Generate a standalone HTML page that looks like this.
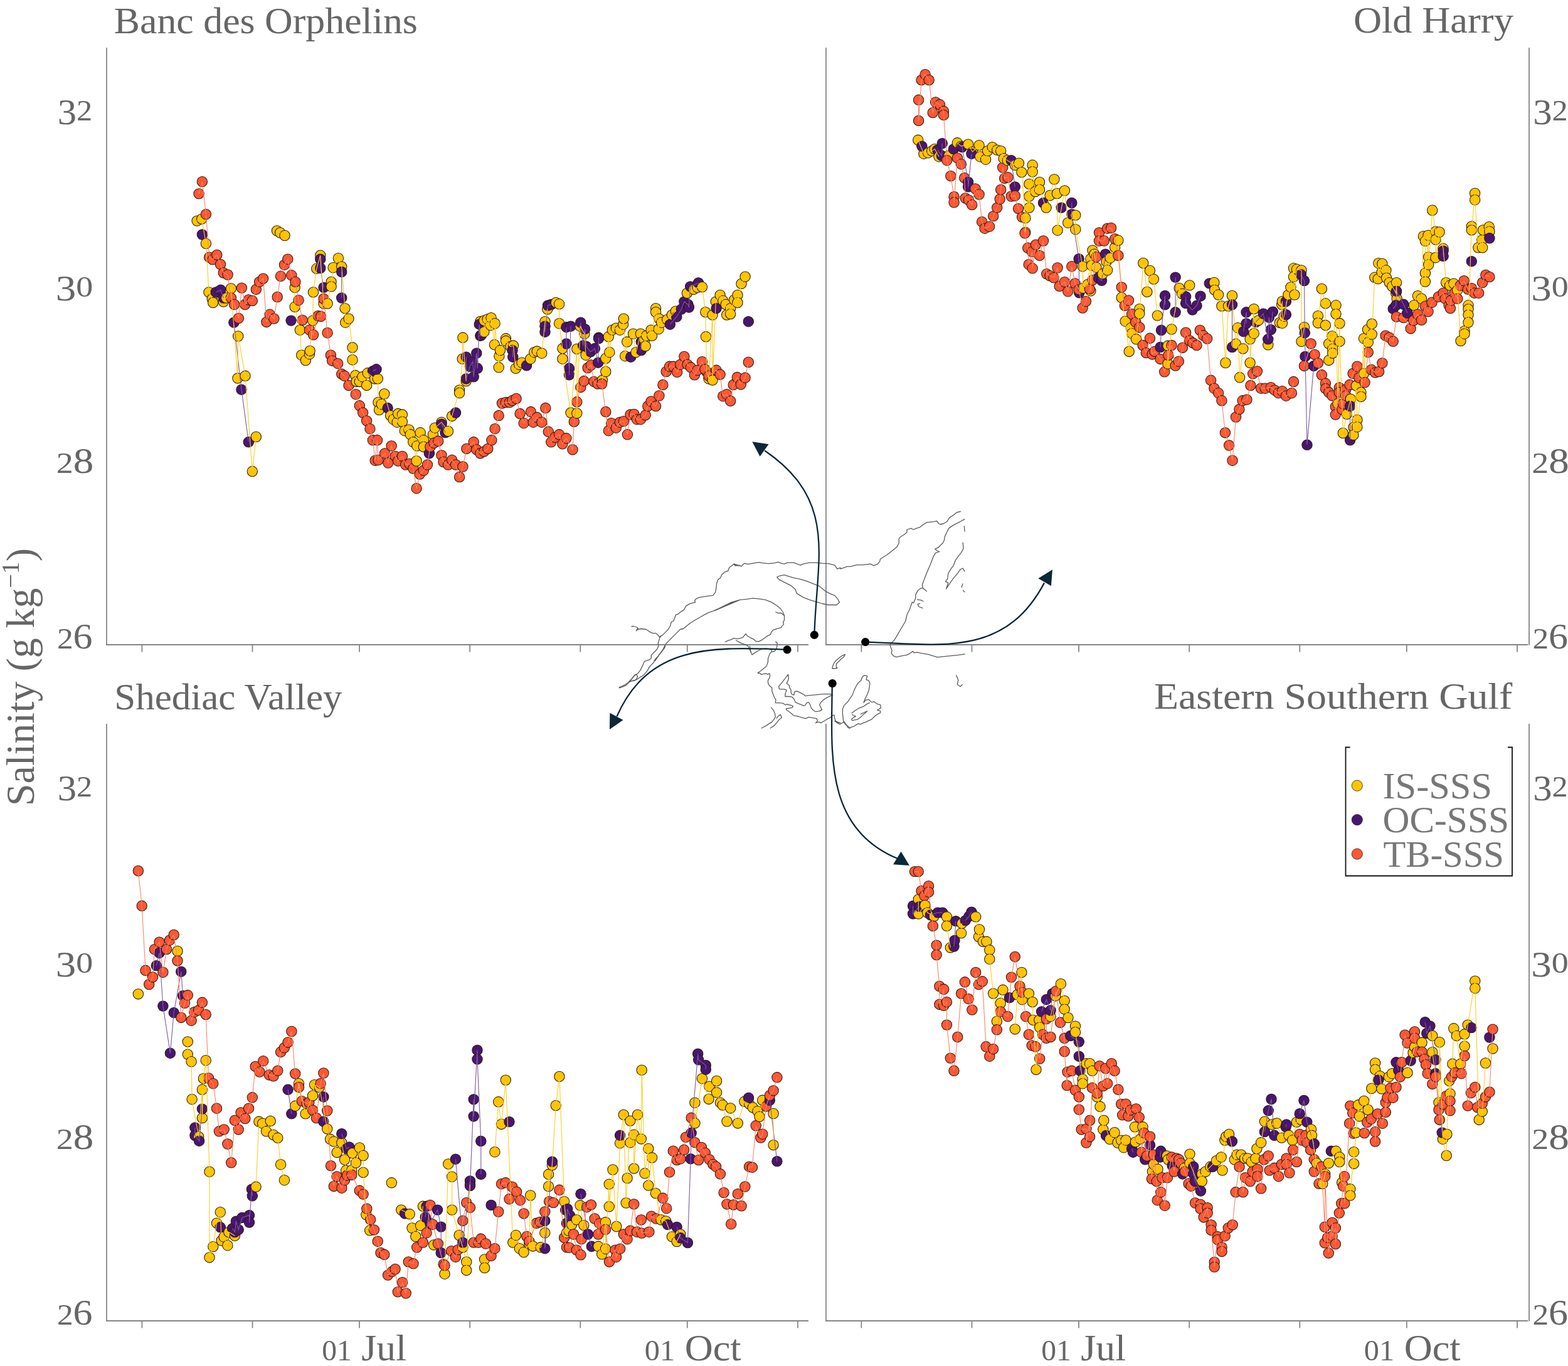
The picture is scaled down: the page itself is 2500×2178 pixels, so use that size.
<!DOCTYPE html>
<html><head><meta charset="utf-8"><title>Salinity time series</title>
<style>html,body{margin:0;padding:0;background:#fff;}svg{display:block;}text{font-family:'Liberation Serif', serif;}.a{fill:#ffc400;}.b{fill:#4a1571;}.c{fill:#ff5733;}</style>
</head><body>
<svg width="2500" height="2178" viewBox="0 0 2500 2178">
<rect width="2500" height="2178" fill="#fff"/>
<g stroke="#858585" stroke-width="1.8" fill="none">
<line x1="170" y1="76" x2="170" y2="1028.8" />
<line x1="169.2" y1="1028" x2="1289" y2="1028" />
<line x1="226.4" y1="1028" x2="226.4" y2="1039.5" />
<line x1="402.5" y1="1028" x2="402.5" y2="1039.5" />
<line x1="573" y1="1028" x2="573" y2="1039.5" />
<line x1="749.2" y1="1028" x2="749.2" y2="1039.5" />
<line x1="925.3" y1="1028" x2="925.3" y2="1039.5" />
<line x1="1095.8" y1="1028" x2="1095.8" y2="1039.5" />
<line x1="1272" y1="1028" x2="1272" y2="1039.5" />
<line x1="1317" y1="76" x2="1317" y2="1028.8" />
<line x1="1316.2" y1="1028" x2="2436" y2="1028" />
<line x1="1373.4" y1="1028" x2="1373.4" y2="1039.5" />
<line x1="1549.5" y1="1028" x2="1549.5" y2="1039.5" />
<line x1="1720" y1="1028" x2="1720" y2="1039.5" />
<line x1="1896.2" y1="1028" x2="1896.2" y2="1039.5" />
<line x1="2072.3" y1="1028" x2="2072.3" y2="1039.5" />
<line x1="2242.8" y1="1028" x2="2242.8" y2="1039.5" />
<line x1="2419" y1="1028" x2="2419" y2="1039.5" />
<line x1="2438" y1="76" x2="2438" y2="1028.8" />
<line x1="170" y1="1154" x2="170" y2="2106.8" />
<line x1="169.2" y1="2106" x2="1289" y2="2106" />
<line x1="226.4" y1="2106" x2="226.4" y2="2117.5" />
<line x1="402.5" y1="2106" x2="402.5" y2="2117.5" />
<line x1="573" y1="2106" x2="573" y2="2117.5" />
<line x1="749.2" y1="2106" x2="749.2" y2="2117.5" />
<line x1="925.3" y1="2106" x2="925.3" y2="2117.5" />
<line x1="1095.8" y1="2106" x2="1095.8" y2="2117.5" />
<line x1="1272" y1="2106" x2="1272" y2="2117.5" />
<line x1="1317" y1="1154" x2="1317" y2="2106.8" />
<line x1="1316.2" y1="2106" x2="2436" y2="2106" />
<line x1="1373.4" y1="2106" x2="1373.4" y2="2117.5" />
<line x1="1549.5" y1="2106" x2="1549.5" y2="2117.5" />
<line x1="1720" y1="2106" x2="1720" y2="2117.5" />
<line x1="1896.2" y1="2106" x2="1896.2" y2="2117.5" />
<line x1="2072.3" y1="2106" x2="2072.3" y2="2117.5" />
<line x1="2242.8" y1="2106" x2="2242.8" y2="2117.5" />
<line x1="2419" y1="2106" x2="2419" y2="2117.5" />
<line x1="2438" y1="1154" x2="2438" y2="2106.8" />
</g>
<text x="181.8" y="52.5" font-size="60" textLength="484.1" lengthAdjust="spacingAndGlyphs" fill="#666666">Banc des Orphelins</text>
<text x="2157.9" y="52" font-size="60" textLength="255" lengthAdjust="spacingAndGlyphs" fill="#666666">Old Harry</text>
<text x="182.2" y="1130.6" font-size="60" textLength="363.4" lengthAdjust="spacingAndGlyphs" fill="#666666">Shediac Valley</text>
<text x="1839.9" y="1129.6" font-size="60" textLength="571.5" lengthAdjust="spacingAndGlyphs" fill="#666666">Eastern Southern Gulf</text>
<text x="91.7" y="192" font-size="56" textLength="55.5" lengthAdjust="spacingAndGlyphs" fill="#666666"><tspan font-size="56" dy="6">3</tspan><tspan font-size="46.5" dy="-6">2</tspan></text>
<text x="2444.2" y="192" font-size="56" textLength="55.5" lengthAdjust="spacingAndGlyphs" fill="#666666"><tspan font-size="56" dy="6">3</tspan><tspan font-size="46.5" dy="-6">2</tspan></text>
<text x="88.7" y="473.3" font-size="56" textLength="59.5" lengthAdjust="spacingAndGlyphs" fill="#666666"><tspan font-size="56" dy="6">3</tspan><tspan font-size="46.5" dy="-6">0</tspan></text>
<text x="2441.2" y="473.3" font-size="56" textLength="59.5" lengthAdjust="spacingAndGlyphs" fill="#666666"><tspan font-size="56" dy="6">3</tspan><tspan font-size="46.5" dy="-6">0</tspan></text>
<text x="89.7" y="753.7" font-size="56" textLength="59.5" lengthAdjust="spacingAndGlyphs" fill="#666666"><tspan font-size="46.5">2</tspan><tspan font-size="56">8</tspan></text>
<text x="2442.2" y="753.7" font-size="56" textLength="59.5" lengthAdjust="spacingAndGlyphs" fill="#666666"><tspan font-size="46.5">2</tspan><tspan font-size="56">8</tspan></text>
<text x="90.9" y="1034" font-size="56" textLength="56.7" lengthAdjust="spacingAndGlyphs" fill="#666666"><tspan font-size="46.5">2</tspan><tspan font-size="56">6</tspan></text>
<text x="2443.4" y="1034" font-size="56" textLength="56.7" lengthAdjust="spacingAndGlyphs" fill="#666666"><tspan font-size="46.5">2</tspan><tspan font-size="56">6</tspan></text>
<text x="91.7" y="1270" font-size="56" textLength="55.5" lengthAdjust="spacingAndGlyphs" fill="#666666"><tspan font-size="56" dy="6">3</tspan><tspan font-size="46.5" dy="-6">2</tspan></text>
<text x="2444.2" y="1270" font-size="56" textLength="55.5" lengthAdjust="spacingAndGlyphs" fill="#666666"><tspan font-size="56" dy="6">3</tspan><tspan font-size="46.5" dy="-6">2</tspan></text>
<text x="88.7" y="1551.3" font-size="56" textLength="59.5" lengthAdjust="spacingAndGlyphs" fill="#666666"><tspan font-size="56" dy="6">3</tspan><tspan font-size="46.5" dy="-6">0</tspan></text>
<text x="2441.2" y="1551.3" font-size="56" textLength="59.5" lengthAdjust="spacingAndGlyphs" fill="#666666"><tspan font-size="56" dy="6">3</tspan><tspan font-size="46.5" dy="-6">0</tspan></text>
<text x="89.7" y="1831.7" font-size="56" textLength="59.5" lengthAdjust="spacingAndGlyphs" fill="#666666"><tspan font-size="46.5">2</tspan><tspan font-size="56">8</tspan></text>
<text x="2442.2" y="1831.7" font-size="56" textLength="59.5" lengthAdjust="spacingAndGlyphs" fill="#666666"><tspan font-size="46.5">2</tspan><tspan font-size="56">8</tspan></text>
<text x="90.9" y="2112" font-size="56" textLength="56.7" lengthAdjust="spacingAndGlyphs" fill="#666666"><tspan font-size="46.5">2</tspan><tspan font-size="56">6</tspan></text>
<text x="2443.4" y="2112" font-size="56" textLength="56.7" lengthAdjust="spacingAndGlyphs" fill="#666666"><tspan font-size="46.5">2</tspan><tspan font-size="56">6</tspan></text>
<text x="513.2" y="2168.8" font-size="60" textLength="134.8" lengthAdjust="spacingAndGlyphs" fill="#666666"><tspan font-size="46.5">0</tspan><tspan font-size="46.5">1</tspan> Jul</text>
<text x="1027.8" y="2168.8" font-size="60" textLength="153.9" lengthAdjust="spacingAndGlyphs" fill="#666666"><tspan font-size="46.5">0</tspan><tspan font-size="46.5">1</tspan> Oct</text>
<text x="1660.2" y="2168.8" font-size="60" textLength="134.8" lengthAdjust="spacingAndGlyphs" fill="#666666"><tspan font-size="46.5">0</tspan><tspan font-size="46.5">1</tspan> Jul</text>
<text x="2174.8" y="2168.8" font-size="60" textLength="153.9" lengthAdjust="spacingAndGlyphs" fill="#666666"><tspan font-size="46.5">0</tspan><tspan font-size="46.5">1</tspan> Oct</text>
<text transform="translate(53.5,1285) rotate(-90)" font-size="64" fill="#666666" textLength="411" lengthAdjust="spacingAndGlyphs">Salinity (g kg<tspan font-size="40" dy="-24">−1</tspan><tspan dy="24">)</tspan></text>
<path d="M2152.5,1191.5 H2145.5 V1396.5 H2411 V1191.5 H2404" fill="none" stroke="#111" stroke-width="1.8"/>
<circle cx="2163.8" cy="1252.7" r="8.6" fill="#ffc400" stroke="#222" stroke-width="0.8"/>
<circle cx="2163.8" cy="1307.1" r="8.6" fill="#4a1571" stroke="#222" stroke-width="0.8"/>
<circle cx="2163.8" cy="1361.6" r="8.6" fill="#ff5733" stroke="#222" stroke-width="0.8"/>
<text x="2204.5" y="1272.9" font-size="60" textLength="174.5" lengthAdjust="spacingAndGlyphs" fill="#777777">IS-SSS</text>
<text x="2204.5" y="1327.4" font-size="60" textLength="201.5" lengthAdjust="spacingAndGlyphs" fill="#777777">OC-SSS</text>
<text x="2205.5" y="1381.8" font-size="60" textLength="192.5" lengthAdjust="spacingAndGlyphs" fill="#777777">TB-SSS</text>
<g fill="none" stroke="#5a5a5a" stroke-width="1.3" stroke-linejoin="round">
<path d="M986.8,1096.1 L991.7,1094.2 L995.6,1092.2 L1000.4,1089.3 L1003.3,1086.4 L1007.2,1082.5 L1012.1,1076.7 L1016.9,1073.8 L1020.8,1068.9 L1024.7,1061.1 L1026.7,1056.3 L1027.6,1054.3 L1034.4,1052.4 L1038.3,1049.4 L1038.3,1044.6 L1042.2,1040.7 L1047.1,1035.8 L1048.1,1033.9 L1050,1030 L1049.3,1025.6 L1051.3,1018.6 L1052.3,1014.6 L1054.3,1013.6 L1056.3,1012.6 L1060.4,1008.6 L1065.4,1003.5 L1068.4,998.5 L1070.4,991.5 L1073.4,990.5 L1075.4,986.5 L1077.4,980.4 L1080.4,979.4 L1085.5,975.4 L1090.5,972.4 L1091.5,970.4 L1093.5,966.4 L1098.5,963.4 L1100.5,962.4 L1108.6,960.4 L1107.6,957.3 L1110.6,954.3 L1115.6,952.3 L1122.6,951.3 L1128.7,950.3 L1136.7,949.3 L1140.7,944.3 L1141.7,938.3 L1142.7,930.2 L1144.7,924.2 L1148.7,921.2 L1150.8,916.2 L1155.8,912.1 L1160.8,910.1 L1162.8,905.1 L1167.8,901.1 L1170.8,899.1 L1173.9,901.6 L1180,902.1 L1170.1,899.2 L1172.1,902.2 L1178.2,901.2 L1182.2,903.2 L1184.2,900.2 L1187.2,898.2 L1192.2,899.7 L1200.3,898.2 L1210.3,896.7 L1215.3,897.7 L1225.4,898.7 L1235.4,897.7 L1240.4,896.2 L1245.5,898.2 L1250.5,899.2 L1255.5,897.2 L1265.6,897.2 L1270.6,899.2 L1276.6,901.2 L1280.6,899.2 L1285.6,898.2 L1290.7,897.2 L1300.7,897.2 L1310.8,898.2 L1320.8,898.7 L1330.8,901.2 L1334.9,907.2 L1340,905.2 L1340,907.1 L1350.6,903.4 L1355.9,903.4 L1366.5,900.7 L1377.1,900.7 L1387.7,899.1 L1393,901.8 L1399.4,899.1 L1402.6,895.4 L1403.6,891.2 L1408.9,888 L1414.2,884.8 L1419.5,880.6 L1424.8,876.3 L1430.1,872.1 L1433.3,865.7 L1433.3,859.4 L1435.4,856.2 L1440.7,853 L1446,848.8 L1446,844.5 L1452.4,842.4 L1456.6,844.5 L1459.8,842.9 L1467.2,840.3 L1472.5,836 L1477.8,832.9 L1488.4,831.8 L1493.7,830.7 L1496.9,835 L1499,836 L1504.3,835 L1509.6,831.8 L1513.9,825.4 L1520.2,821.2 L1525.5,817 L1531.9,815.4"/>
<path d="M1006.6,999 L1010.1,998.5 L1015.2,1000 L1017.2,1001.5 L1014.2,1005.6 L1017.2,1003.5 L1022.2,1002.5 L1030.2,1003.5 L1036.2,1007.6 L1040.3,1009.6 L1045.3,1009.6 L1049.3,1012.6 L1051.3,1015.6 L1054.3,1015.6"/>
<path d="M1003.3,1086.4 L1007.2,1082.5 L1012.1,1076.2 L1015,1075.7 L1016.5,1078.6 L1015,1082.5 L1011.1,1085.4 L1007.2,1085.9 L1003.3,1086.4"/>
<path d="M986.8,1097.1 L992.6,1095.1 L997.5,1093.2 L1002.4,1088.3 L1007.2,1085.4 L1013.1,1084.4 L1016.9,1082.5 L1020.8,1079.6 L1024.7,1077.6 L1028.6,1073.8 L1032.5,1068.9 L1034.4,1065 L1038.3,1060.1 L1042.2,1056.3 L1044.2,1051.4 L1048.1,1047.5 L1053.9,1040.7 L1059.7,1032.9 L1060.7,1030 L1044.3,1053.8 L1050.3,1044.7 L1056.3,1036.7 L1059.3,1030.7 L1062.4,1025.6 L1065.4,1022.6 L1070.4,1017.6 L1075.4,1012.6 L1080.4,1007.6 L1084.5,1003.5 L1089.5,1002.5 L1095.5,997.5 L1100.5,993.5 L1108.6,988.5 L1115.6,984.5 L1122.6,980.4 L1130.7,976.4 L1136.7,974.4 L1145.7,970.4 L1155.8,965.4 L1165.8,960.4 L1180,956.3 L1140,973.5 L1150,968.5 L1160.1,963.5 L1170.1,959.4 L1180.2,956.4 L1190.2,955.4 L1200.3,953.9 L1210.3,954.9 L1220.4,956.4 L1230.4,960.4 L1238.4,965.5 L1244.5,970.5 L1248.5,976.5 L1250.5,981.5 L1250.5,988.6 L1248.5,992.6 L1249.5,995.6 L1246.5,998.6 L1245.5,1000.6 L1238.4,1002.6 L1232.4,1004.6 L1229.4,1008.7 L1228.4,1011.7 L1222.4,1014.7 L1218.3,1017.7 L1214.3,1020.7 L1210.3,1022.7 L1205.3,1022.7 L1202.3,1019.7 L1196.2,1016.7 L1191.2,1013.7 L1189.2,1010.7 L1187.2,1012.7 L1184.2,1016.7 L1180.2,1017.7 L1175.2,1018.7 L1170.1,1017.7 L1166.1,1019.7 L1160.1,1021.7 L1156.1,1023.7"/>
<path d="M1236.4,975.5 L1240.4,977.5 L1245.5,977.5 L1250.5,981.5"/>
<path d="M1238.4,920.3 L1242.5,924.3 L1250.5,928.3 L1260.5,933.3 L1267.6,939.3 L1270.6,946.4 L1280.6,952.4 L1290.7,956.4 L1300.7,959.4 L1310.8,962.5 L1320.8,964.5 L1333.9,964.5 L1338.4,960.4 L1335.9,955.4 L1330.8,949.4 L1322.8,946.4 L1315.8,942.4 L1310.8,938.3 L1305.7,934.3 L1295.7,930.3 L1285.6,926.3 L1275.6,923.3 L1265.6,921.3 L1255.5,918.3 L1250.5,916.7 L1242.5,918.3 L1238.4,920.3"/>
<path d="M1538.3,827.6 L1530.8,831.8 L1520.2,837.1 L1512.8,842.4 L1509.6,848.8 L1506.5,855.1 L1505.4,861.5 L1503.3,865.7 L1499,870 L1495.9,873.2 L1490.6,875.3 L1494.8,878.5 L1498,879.5 L1491.6,881.6 L1488.4,886.9 L1486.3,892.2 L1483.1,900.7 L1478.9,910.3 L1474.6,920.9 L1470.4,932.5 L1471.5,937.8 L1468.3,937.8 L1463,942.1 L1459.8,948.4 L1459.8,953.7 L1456.6,961.2 L1454.5,960.1 L1452.4,965.4 L1450.3,971.8 L1446,980.2 L1443.9,990 L1426.3,1020 L1420.4,1025.9 L1418.8,1028.4 L1420.4,1032.6 L1422.1,1036.7 L1421.3,1041.8 L1424.6,1045.9 L1428.8,1047.6 L1437.2,1045.9 L1445.6,1044.3 L1450.6,1041.8 L1455.6,1038.4 L1457.3,1040.9 L1462.3,1040.1 L1470.7,1041.8 L1480,1043.4 L1494.4,1047.8 L1511.1,1046.1 L1527.9,1044.4 L1538.8,1042.8"/>
<path d="M1461.9,955.9 L1468.3,956.9 L1472.5,959"/>
<path d="M1467.2,962.2 L1463,963.3 L1465.1,967.5 L1471.5,969.6"/>
<path d="M1471.5,937.8 L1477.8,943.1"/>
<path d="M1535.1,864.7 L1536.1,874.2 L1533,880.6 L1528.7,885.9 L1523.4,893.3 L1520.2,901.8 L1516,907.1 L1511.8,914.5 L1510.7,923 L1507.5,927.2 L1511.8,929.3 L1508.6,938.9 L1514.9,929.3 L1520.2,921.9 L1526.6,914.5 L1530.8,908.1 L1535.1,906 L1538.3,911.3"/>
<path d="M1173.1,1020.7 L1176.2,1022.7 L1182.2,1025.7 L1190.2,1028.7 L1193.2,1030.8 L1195.2,1035.8 L1197.3,1040"/>
<path d="M1236.4,1022.7 L1239.4,1025.7 L1238.4,1032.8 L1235.4,1037.8 L1230.4,1040"/>
<path d="M1198.8,1044.1 L1203.4,1040.9 L1209.7,1037 L1215.2,1034.7 L1220.6,1033.9 L1226.9,1034.7 L1230.8,1037 L1230,1039.4 L1227.7,1041.7 L1226.1,1045.6 L1224.5,1050.3 L1224.5,1055 L1223,1059.7 L1221.4,1062.8 L1217.5,1065.9 L1213.6,1069.1 L1210.5,1071.4 L1208.1,1073 L1212.8,1073.8 L1213.6,1075.7 L1217.5,1074.5 L1221.4,1073.8 L1223.8,1075.3 L1226.9,1073.8 L1227.7,1076.9 L1226.9,1080.8 L1224.5,1084.7 L1224.5,1088.6 L1226.1,1092.5 L1228.4,1094.8 L1230.8,1096.4 L1230.8,1101.9 L1233.1,1108.1 L1234.7,1112 L1236.2,1114.4 L1237,1115.9 L1236.2,1120.6 L1242.5,1120.6 L1248.8,1121.4 L1251.9,1123.8 L1254.2,1123 L1258.1,1123.8 L1261.2,1124.5 L1264.4,1126.1 L1262.8,1128.4 L1258.1,1129.2 L1253.4,1130 L1254.2,1132.3 L1258.1,1134.7 L1262,1137.8 L1265.2,1140.9 L1269.8,1141.7 L1273.8,1142.5 L1278.4,1144.1 L1281.6,1144.8 L1284.7,1145.6 L1289.4,1143.3 L1293.3,1144.1 L1297.2,1144.8 L1301.9,1145.6 L1303.4,1148.8 L1301.9,1151.9 L1300.3,1152.7 L1305,1151.1 L1308.9,1152.7 L1312.8,1150.3 L1316.7,1148 L1320.6,1145.6 L1323.8,1144.1 L1326.9,1140.9 L1330,1140.2 L1330.8,1145.6 L1332.3,1149.5 L1336.2,1151.9 L1340,1152.7 L1330.9,1149.7 L1334.2,1152.3 L1339.3,1154.8 L1343.4,1152.3 L1345.9,1150.6 L1349.3,1155.6 L1351.8,1159.8 L1355.2,1161.5"/>
<path d="M1195.6,1030 L1196.4,1036.2 L1198,1041.7 L1198.8,1044.1"/>
<path d="M1242.5,1098.8 L1241.7,1094.1 L1246.4,1088.6 L1251.9,1081.6 L1256.6,1075.3 L1257.3,1080.8 L1256.6,1084.7 L1254.2,1089.4 L1258.1,1092.5 L1258.9,1096.4 L1261.2,1100.3 L1261.2,1104.2 L1262.8,1107.3 L1265.9,1108.1 L1266.7,1103.4 L1269.8,1101.9 L1273.8,1103.4 L1278.4,1105.8 L1281.6,1107.3 L1283.9,1109.7 L1289.4,1108.9 L1297.2,1108.1 L1305,1107.3 L1312.8,1106.6 L1323.8,1106.6 L1327.7,1108.1 L1323.8,1109.7 L1317.5,1112.8 L1312.8,1115.9 L1308.9,1119.8 L1306.6,1123.8 L1308.9,1128.4 L1310.5,1131.6 L1306.6,1133.9 L1300.3,1134.7 L1296.4,1132.3 L1293.3,1128.4 L1291.7,1123.8 L1289.4,1119.8 L1286.2,1120.6 L1283.9,1124.5 L1281.6,1125.3 L1273.8,1122.2 L1268.3,1119.8 L1265.9,1114.4 L1262.8,1111.2 L1258.1,1110.5 L1251.9,1110.5 L1251.9,1106.6 L1254.2,1100.3 L1250.3,1098.8 L1246.4,1098.8 L1242.5,1098.8"/>
<path d="M1229.2,1127.7 L1233.1,1132.3 L1235.5,1137.8 L1236.2,1143.3 L1233.9,1147.2 L1230.8,1151.1 L1226.9,1153.4 L1222.2,1156.6 L1213.6,1161.2"/>
<path d="M1227.7,1161.2 L1234.7,1156.6 L1239.4,1151.1 L1242.5,1147.2 L1246.4,1144.1 L1244.1,1139.4 L1240.9,1141.7 L1237.8,1145.6"/>
<path d="M1326.7,1066 L1328.4,1060.2 L1330,1056.8 L1332.6,1053.5 L1336.7,1050.1 L1341.8,1045.9 L1347.6,1043.4 L1345.1,1047.6 L1340.9,1051 L1336.7,1055.2 L1333.4,1058.5 L1333.4,1063.5 L1335.1,1065.2 L1330.9,1066 L1326.7,1066"/>
<path d="M1345.1,1151.4 L1344.3,1145.6 L1343.4,1137.2 L1343.4,1130.5 L1345.9,1124.6 L1351.8,1118.8 L1355.2,1113.7 L1359.3,1107.9 L1361.9,1100.4 L1365.2,1093.7 L1368.5,1088.6 L1372.7,1085.3 L1375.2,1078.6 L1378.6,1076.9 L1382.8,1077.8 L1381.1,1083.6 L1385.3,1085.3 L1387,1089.5 L1386.1,1095.3 L1385.3,1100.4 L1382.8,1107.1 L1379.4,1113.7 L1376.9,1120.4 L1380.3,1116.3 L1385.3,1115.4 L1389.5,1119.6 L1393.7,1118.8 L1397.8,1122.1 L1403.7,1123.8 L1404.5,1128 L1402,1130.5 L1398.7,1132.2 L1403.7,1133.8 L1403.7,1136.3 L1398.7,1138.9 L1395.3,1141.4 L1392.8,1143.9 L1389.5,1147.2 L1385.3,1148.9 L1380.3,1151.4 L1375.2,1153.1 L1371.9,1154.8 L1368.5,1153.9 L1365.2,1155.6 L1361.9,1158.1 L1358.5,1158.9 L1355.2,1160.6 L1351.8,1158.1 L1348.5,1155.6 L1345.1,1151.4"/>
<path d="M1357.7,1137.2 L1364.4,1132.2 L1370.2,1128.8 L1376.9,1126.3 L1382.8,1122.1 L1387,1120.4"/>
<path d="M1371.9,1138.9 L1378.6,1135.5 L1382.8,1133.8 L1376.9,1138.9 L1371.9,1143.9 L1366.9,1147.2 L1361.9,1148.1 L1358.5,1148.9 L1357.7,1146.4 L1361,1143.9 L1364.4,1142.2 L1360.2,1140.5 L1358.5,1138.9"/>
<path d="M1524.5,1076.2 L1527.9,1084.6 L1526.2,1091.3 L1531.2,1094.7 L1534.6,1091.3"/>
<path d="M1537.2,838.2 L1538.3,847.7"/>
<path d="M1535.1,930.4 L1533,936.8"/>
<path d="M1535.1,941 L1538.3,944.2"/>
</g>
<g stroke="#2b1a12" stroke-width="1.05">
<circle class="a" cx="314.1" cy="352.1" r="8.2"/><circle class="c" cx="317.1" cy="308.9" r="8.2"/><circle class="a" cx="321.7" cy="349.1" r="8.2"/><circle class="b" cx="322.4" cy="374" r="8.2"/><circle class="c" cx="322.4" cy="289.6" r="8.2"/><circle class="a" cx="328.4" cy="388.3" r="8.2"/><circle class="c" cx="328.4" cy="341.6" r="8.2"/><circle class="a" cx="333" cy="465.9" r="8.2"/><circle class="c" cx="333.7" cy="410.2" r="8.2"/><circle class="a" cx="338.2" cy="476.5" r="8.2"/><circle class="a" cx="339.7" cy="482.5" r="8.2"/><circle class="c" cx="339" cy="413.9" r="8.2"/><circle class="b" cx="344.3" cy="465.9" r="8.2"/><circle class="c" cx="345.8" cy="406.4" r="8.2"/><circle class="b" cx="351.8" cy="462.2" r="8.2"/><circle class="c" cx="351.5" cy="421.5" r="8.2"/><circle class="a" cx="356.3" cy="481" r="8.2"/><circle class="b" cx="356.3" cy="475" r="8.2"/><circle class="c" cx="356.3" cy="435" r="8.2"/><circle class="a" cx="360.8" cy="475" r="8.2"/><circle class="c" cx="363.1" cy="438" r="8.2"/><circle class="a" cx="368.4" cy="459.9" r="8.2"/><circle class="c" cx="368.4" cy="475" r="8.2"/><circle class="b" cx="372.9" cy="514.2" r="8.2"/><circle class="c" cx="373.6" cy="485.5" r="8.2"/><circle class="a" cx="378.9" cy="603.1" r="8.2"/><circle class="a" cx="379.7" cy="536" r="8.2"/><circle class="c" cx="380.4" cy="507.4" r="8.2"/><circle class="b" cx="385" cy="621.2" r="8.2"/><circle class="c" cx="385.4" cy="459.1" r="8.2"/><circle class="a" cx="391" cy="599.3" r="8.2"/><circle class="c" cx="390.7" cy="485.5" r="8.2"/><circle class="b" cx="396.3" cy="704.8" r="8.2"/><circle class="c" cx="396.3" cy="478" r="8.2"/><circle class="a" cx="402.3" cy="751.6" r="8.2"/><circle class="c" cx="402.3" cy="479.5" r="8.2"/><circle class="a" cx="408.3" cy="696.5" r="8.2"/><circle class="c" cx="408.3" cy="461.4" r="8.2"/><circle class="c" cx="413.6" cy="449.4" r="8.2"/><circle class="c" cx="419.6" cy="444.1" r="8.2"/><circle class="c" cx="424.9" cy="513.4" r="8.2"/><circle class="c" cx="430.2" cy="501.3" r="8.2"/><circle class="c" cx="436.9" cy="508.1" r="8.2"/><circle class="a" cx="441.5" cy="368" r="8.2"/><circle class="c" cx="442.2" cy="473.5" r="8.2"/><circle class="a" cx="446.7" cy="371" r="8.2"/><circle class="c" cx="447.5" cy="440.3" r="8.2"/><circle class="a" cx="454" cy="375.5" r="8.2"/><circle class="c" cx="453.5" cy="422.2" r="8.2"/><circle class="c" cx="458.8" cy="413.2" r="8.2"/><circle class="b" cx="464.1" cy="511.1" r="8.2"/><circle class="c" cx="464.8" cy="438.8" r="8.2"/><circle class="a" cx="470.1" cy="458.4" r="8.2"/><circle class="a" cx="470.1" cy="489.3" r="8.2"/><circle class="c" cx="470.9" cy="449.4" r="8.2"/><circle class="a" cx="478.4" cy="526.2" r="8.2"/><circle class="c" cx="476.1" cy="478.7" r="8.2"/><circle class="a" cx="480.7" cy="566.2" r="8.2"/><circle class="c" cx="482.2" cy="510.4" r="8.2"/><circle class="a" cx="487.4" cy="574.5" r="8.2"/><circle class="a" cx="493.5" cy="564.7" r="8.2"/><circle class="a" cx="494.2" cy="559.4" r="8.2"/><circle class="c" cx="493.5" cy="526.2" r="8.2"/><circle class="a" cx="498.7" cy="511.1" r="8.2"/><circle class="a" cx="499.5" cy="465.9" r="8.2"/><circle class="c" cx="499.5" cy="533.8" r="8.2"/><circle class="a" cx="504.8" cy="428.3" r="8.2"/><circle class="c" cx="507" cy="503.6" r="8.2"/><circle class="a" cx="510.8" cy="407.2" r="8.2"/><circle class="b" cx="510.8" cy="413.2" r="8.2"/><circle class="b" cx="510.8" cy="427.5" r="8.2"/><circle class="c" cx="511.6" cy="504.4" r="8.2"/><circle class="a" cx="516.1" cy="484" r="8.2"/><circle class="b" cx="516.1" cy="458.4" r="8.2"/><circle class="c" cx="516.1" cy="476.5" r="8.2"/><circle class="a" cx="522.1" cy="484" r="8.2"/><circle class="c" cx="522.1" cy="530.7" r="8.2"/><circle class="a" cx="528.1" cy="449.4" r="8.2"/><circle class="a" cx="528.1" cy="456.9" r="8.2"/><circle class="c" cx="527.4" cy="566.2" r="8.2"/><circle class="c" cx="529.6" cy="575.2" r="8.2"/><circle class="a" cx="531.1" cy="426.7" r="8.2"/><circle class="a" cx="539.4" cy="411.7" r="8.2"/><circle class="c" cx="538.7" cy="579.7" r="8.2"/><circle class="a" cx="544.7" cy="425.2" r="8.2"/><circle class="b" cx="544.7" cy="433.5" r="8.2"/><circle class="b" cx="544.7" cy="475" r="8.2"/><circle class="c" cx="544.7" cy="596.3" r="8.2"/><circle class="a" cx="550" cy="491.6" r="8.2"/><circle class="a" cx="550.7" cy="514.2" r="8.2"/><circle class="c" cx="549.2" cy="599.3" r="8.2"/><circle class="a" cx="556" cy="508.1" r="8.2"/><circle class="c" cx="556" cy="614.4" r="8.2"/><circle class="a" cx="562" cy="554.1" r="8.2"/><circle class="a" cx="562" cy="573.7" r="8.2"/><circle class="a" cx="566.6" cy="598.6" r="8.2"/><circle class="a" cx="568.1" cy="608.4" r="8.2"/><circle class="c" cx="567.3" cy="628.7" r="8.2"/><circle class="a" cx="573.3" cy="608.4" r="8.2"/><circle class="c" cx="573.3" cy="646.8" r="8.2"/><circle class="a" cx="577.9" cy="600.8" r="8.2"/><circle class="c" cx="578.6" cy="658.1" r="8.2"/><circle class="a" cx="584.6" cy="614.4" r="8.2"/><circle class="a" cx="586.2" cy="594.8" r="8.2"/><circle class="c" cx="584.6" cy="670.9" r="8.2"/><circle class="c" cx="589.9" cy="683.7" r="8.2"/><circle class="a" cx="597.5" cy="603.9" r="8.2"/><circle class="b" cx="594.4" cy="591.8" r="8.2"/><circle class="c" cx="594.4" cy="701.8" r="8.2"/><circle class="c" cx="598.2" cy="734.2" r="8.2"/><circle class="a" cx="602.3" cy="603.9" r="8.2"/><circle class="a" cx="603" cy="641.5" r="8.2"/><circle class="a" cx="604.5" cy="653.6" r="8.2"/><circle class="b" cx="600" cy="588.8" r="8.2"/><circle class="c" cx="601.5" cy="701.8" r="8.2"/><circle class="c" cx="603" cy="733.5" r="8.2"/><circle class="a" cx="608.3" cy="644.5" r="8.2"/><circle class="a" cx="612.8" cy="628" r="8.2"/><circle class="c" cx="613.6" cy="722.9" r="8.2"/><circle class="b" cx="618.1" cy="650.6" r="8.2"/><circle class="c" cx="618.8" cy="738" r="8.2"/><circle class="a" cx="622.6" cy="662.6" r="8.2"/><circle class="a" cx="627.1" cy="668.7" r="8.2"/><circle class="c" cx="624.1" cy="710.9" r="8.2"/><circle class="a" cx="633.2" cy="673.2" r="8.2"/><circle class="c" cx="630.1" cy="727.4" r="8.2"/><circle class="a" cx="634.7" cy="659.6" r="8.2"/><circle class="c" cx="634.7" cy="735" r="8.2"/><circle class="a" cx="641.4" cy="661.1" r="8.2"/><circle class="a" cx="641.4" cy="672.4" r="8.2"/><circle class="c" cx="641.4" cy="727.4" r="8.2"/><circle class="a" cx="645.2" cy="686.7" r="8.2"/><circle class="c" cx="646.7" cy="741" r="8.2"/><circle class="a" cx="652" cy="685.2" r="8.2"/><circle class="a" cx="654.3" cy="692.8" r="8.2"/><circle class="c" cx="652.8" cy="739.5" r="8.2"/><circle class="a" cx="658.8" cy="704.8" r="8.2"/><circle class="c" cx="658.8" cy="747" r="8.2"/><circle class="a" cx="664.1" cy="735" r="8.2"/><circle class="a" cx="664.8" cy="710.9" r="8.2"/><circle class="c" cx="664.1" cy="778.7" r="8.2"/><circle class="a" cx="670.1" cy="689.8" r="8.2"/><circle class="c" cx="669.3" cy="756.1" r="8.2"/><circle class="a" cx="675.4" cy="701.8" r="8.2"/><circle class="a" cx="675.4" cy="712.4" r="8.2"/><circle class="c" cx="675.4" cy="750" r="8.2"/><circle class="b" cx="684.4" cy="722.9" r="8.2"/><circle class="c" cx="681.4" cy="741" r="8.2"/><circle class="c" cx="685.9" cy="712.4" r="8.2"/><circle class="a" cx="690.4" cy="692.8" r="8.2"/><circle class="a" cx="693.4" cy="682.2" r="8.2"/><circle class="c" cx="691.9" cy="706.3" r="8.2"/><circle class="c" cx="698.7" cy="703.3" r="8.2"/><circle class="a" cx="704" cy="673.2" r="8.2"/><circle class="b" cx="704" cy="676.2" r="8.2"/><circle class="c" cx="704" cy="725.9" r="8.2"/><circle class="c" cx="707" cy="736.5" r="8.2"/><circle class="b" cx="710" cy="689.8" r="8.2"/><circle class="a" cx="714.5" cy="687.5" r="8.2"/><circle class="c" cx="714.5" cy="741" r="8.2"/><circle class="a" cx="720.6" cy="663.4" r="8.2"/><circle class="c" cx="720.6" cy="733.5" r="8.2"/><circle class="b" cx="726.6" cy="658.1" r="8.2"/><circle class="c" cx="726.6" cy="741" r="8.2"/><circle class="a" cx="732.6" cy="621.9" r="8.2"/><circle class="a" cx="732.6" cy="626.5" r="8.2"/><circle class="c" cx="732.6" cy="760.6" r="8.2"/><circle class="a" cx="737.2" cy="572.2" r="8.2"/><circle class="a" cx="737.9" cy="538.3" r="8.2"/><circle class="c" cx="737.9" cy="744" r="8.2"/><circle class="a" cx="743.2" cy="607.6" r="8.2"/><circle class="b" cx="743.2" cy="569.2" r="8.2"/><circle class="b" cx="743.2" cy="603.9" r="8.2"/><circle class="c" cx="743.9" cy="715.4" r="8.2"/><circle class="b" cx="749.2" cy="584.3" r="8.2"/><circle class="b" cx="753.7" cy="576.7" r="8.2"/><circle class="b" cx="755.2" cy="600.8" r="8.2"/><circle class="c" cx="755.2" cy="704.8" r="8.2"/><circle class="b" cx="759.8" cy="563.2" r="8.2"/><circle class="b" cx="761.3" cy="587.3" r="8.2"/><circle class="c" cx="759.8" cy="716.9" r="8.2"/><circle class="a" cx="765.8" cy="512.7" r="8.2"/><circle class="b" cx="764.3" cy="517.2" r="8.2"/><circle class="b" cx="765.8" cy="535.3" r="8.2"/><circle class="b" cx="767.3" cy="534.5" r="8.2"/><circle class="c" cx="765.8" cy="722.9" r="8.2"/><circle class="a" cx="771.8" cy="511.1" r="8.2"/><circle class="a" cx="771.8" cy="529.2" r="8.2"/><circle class="c" cx="771.8" cy="719.9" r="8.2"/><circle class="a" cx="777.1" cy="508.9" r="8.2"/><circle class="c" cx="777.8" cy="715.4" r="8.2"/><circle class="a" cx="782.4" cy="518.7" r="8.2"/><circle class="a" cx="783.1" cy="506.6" r="8.2"/><circle class="c" cx="783.9" cy="701.8" r="8.2"/><circle class="a" cx="788.4" cy="549.6" r="8.2"/><circle class="a" cx="789.1" cy="515.7" r="8.2"/><circle class="c" cx="789.1" cy="683.7" r="8.2"/><circle class="a" cx="795.2" cy="585.8" r="8.2"/><circle class="a" cx="795.9" cy="567.7" r="8.2"/><circle class="a" cx="797.4" cy="558.6" r="8.2"/><circle class="c" cx="795.2" cy="662.6" r="8.2"/><circle class="c" cx="800.5" cy="643" r="8.2"/><circle class="a" cx="806.5" cy="539.8" r="8.2"/><circle class="a" cx="806.5" cy="543.6" r="8.2"/><circle class="c" cx="806.5" cy="641.5" r="8.2"/><circle class="a" cx="814" cy="552.6" r="8.2"/><circle class="c" cx="812.5" cy="641.5" r="8.2"/><circle class="a" cx="818.5" cy="551.1" r="8.2"/><circle class="b" cx="817" cy="558.6" r="8.2"/><circle class="b" cx="817.8" cy="569.2" r="8.2"/><circle class="c" cx="817" cy="638.5" r="8.2"/><circle class="a" cx="822.3" cy="587.3" r="8.2"/><circle class="c" cx="823.1" cy="635.5" r="8.2"/><circle class="a" cx="827.6" cy="581.2" r="8.2"/><circle class="a" cx="832.1" cy="578.2" r="8.2"/><circle class="c" cx="829.1" cy="659.6" r="8.2"/><circle class="c" cx="835.1" cy="674.7" r="8.2"/><circle class="b" cx="839.6" cy="582.8" r="8.2"/><circle class="a" cx="845.7" cy="572.2" r="8.2"/><circle class="c" cx="846.4" cy="656.6" r="8.2"/><circle class="a" cx="851.7" cy="561.7" r="8.2"/><circle class="c" cx="850.2" cy="673.2" r="8.2"/><circle class="a" cx="856.2" cy="560.1" r="8.2"/><circle class="c" cx="856.2" cy="665.6" r="8.2"/><circle class="a" cx="863.8" cy="563.2" r="8.2"/><circle class="c" cx="863.8" cy="673.2" r="8.2"/><circle class="a" cx="869" cy="512.7" r="8.2"/><circle class="b" cx="869" cy="520.2" r="8.2"/><circle class="b" cx="869" cy="529.2" r="8.2"/><circle class="c" cx="869.8" cy="650.6" r="8.2"/><circle class="a" cx="872.8" cy="493.1" r="8.2"/><circle class="b" cx="873.5" cy="487" r="8.2"/><circle class="c" cx="874.3" cy="688.3" r="8.2"/><circle class="b" cx="878.8" cy="485.5" r="8.2"/><circle class="c" cx="878.8" cy="704.8" r="8.2"/><circle class="a" cx="886.4" cy="482.5" r="8.2"/><circle class="c" cx="884.9" cy="697.3" r="8.2"/><circle class="a" cx="891.6" cy="484.8" r="8.2"/><circle class="a" cx="891.6" cy="515.7" r="8.2"/><circle class="c" cx="891.6" cy="692.8" r="8.2"/><circle class="a" cx="896.9" cy="555.6" r="8.2"/><circle class="a" cx="896.9" cy="572.2" r="8.2"/><circle class="c" cx="896.9" cy="707.8" r="8.2"/><circle class="b" cx="902.9" cy="521.7" r="8.2"/><circle class="b" cx="902.9" cy="548.1" r="8.2"/><circle class="c" cx="902.9" cy="698.8" r="8.2"/><circle class="a" cx="910" cy="658.1" r="8.2"/><circle class="b" cx="907.5" cy="587.3" r="8.2"/><circle class="b" cx="907.5" cy="597.8" r="8.2"/><circle class="b" cx="910" cy="520.2" r="8.2"/><circle class="c" cx="913" cy="716.9" r="8.2"/><circle class="c" cx="915.3" cy="672.4" r="8.2"/><circle class="a" cx="919.8" cy="556.4" r="8.2"/><circle class="a" cx="919.8" cy="658.9" r="8.2"/><circle class="c" cx="919.8" cy="640.8" r="8.2"/><circle class="a" cx="925.1" cy="520.2" r="8.2"/><circle class="b" cx="925.8" cy="514.2" r="8.2"/><circle class="c" cx="925.8" cy="617.4" r="8.2"/><circle class="a" cx="931.9" cy="532.2" r="8.2"/><circle class="a" cx="934.1" cy="566.2" r="8.2"/><circle class="b" cx="929.6" cy="551.1" r="8.2"/><circle class="b" cx="932.6" cy="524.7" r="8.2"/><circle class="c" cx="931.1" cy="607.6" r="8.2"/><circle class="b" cx="934.9" cy="552.6" r="8.2"/><circle class="c" cx="937.1" cy="586.5" r="8.2"/><circle class="b" cx="941.7" cy="560.9" r="8.2"/><circle class="c" cx="942.4" cy="582" r="8.2"/><circle class="b" cx="948.4" cy="555.6" r="8.2"/><circle class="c" cx="946.9" cy="608.4" r="8.2"/><circle class="b" cx="953.7" cy="578.2" r="8.2"/><circle class="b" cx="954.5" cy="538.3" r="8.2"/><circle class="b" cx="954.5" cy="539.8" r="8.2"/><circle class="c" cx="953" cy="612.1" r="8.2"/><circle class="a" cx="960.5" cy="606.1" r="8.2"/><circle class="c" cx="959.7" cy="612.1" r="8.2"/><circle class="a" cx="965.8" cy="571.4" r="8.2"/><circle class="a" cx="965.8" cy="592.5" r="8.2"/><circle class="c" cx="965.8" cy="656.6" r="8.2"/><circle class="a" cx="970.3" cy="536.8" r="8.2"/><circle class="a" cx="971.8" cy="561.7" r="8.2"/><circle class="c" cx="970.3" cy="686.7" r="8.2"/><circle class="a" cx="976.3" cy="526.2" r="8.2"/><circle class="c" cx="974.8" cy="674.7" r="8.2"/><circle class="a" cx="982.3" cy="523.2" r="8.2"/><circle class="c" cx="982.3" cy="682.2" r="8.2"/><circle class="a" cx="988.4" cy="526.2" r="8.2"/><circle class="c" cx="988.4" cy="673.2" r="8.2"/><circle class="a" cx="993.6" cy="517.2" r="8.2"/><circle class="a" cx="994.4" cy="508.1" r="8.2"/><circle class="a" cx="996.7" cy="567.7" r="8.2"/><circle class="c" cx="994.4" cy="671.7" r="8.2"/><circle class="a" cx="999.7" cy="545.1" r="8.2"/><circle class="c" cx="1000.4" cy="692.8" r="8.2"/><circle class="b" cx="1005.7" cy="569.2" r="8.2"/><circle class="c" cx="1005" cy="661.1" r="8.2"/><circle class="a" cx="1009.5" cy="532.2" r="8.2"/><circle class="c" cx="1011" cy="660.4" r="8.2"/><circle class="a" cx="1014" cy="561.7" r="8.2"/><circle class="c" cx="1015.5" cy="668.7" r="8.2"/><circle class="a" cx="1021.5" cy="532.2" r="8.2"/><circle class="b" cx="1022.3" cy="545.1" r="8.2"/><circle class="b" cx="1022.3" cy="558.6" r="8.2"/><circle class="c" cx="1021.5" cy="668.7" r="8.2"/><circle class="a" cx="1027.6" cy="542.1" r="8.2"/><circle class="a" cx="1029.1" cy="551.9" r="8.2"/><circle class="a" cx="1030.6" cy="535.3" r="8.2"/><circle class="c" cx="1029.1" cy="661.9" r="8.2"/><circle class="c" cx="1032.8" cy="647.6" r="8.2"/><circle class="a" cx="1038.1" cy="526.2" r="8.2"/><circle class="a" cx="1039.6" cy="535.3" r="8.2"/><circle class="c" cx="1038.1" cy="640" r="8.2"/><circle class="a" cx="1045.6" cy="491.6" r="8.2"/><circle class="a" cx="1045.6" cy="497.6" r="8.2"/><circle class="c" cx="1045.6" cy="647.6" r="8.2"/><circle class="a" cx="1050.2" cy="524.7" r="8.2"/><circle class="a" cx="1050.9" cy="508.1" r="8.2"/><circle class="c" cx="1050.9" cy="631" r="8.2"/><circle class="a" cx="1054.7" cy="514.2" r="8.2"/><circle class="c" cx="1056.9" cy="613.6" r="8.2"/><circle class="a" cx="1063.7" cy="509.6" r="8.2"/><circle class="c" cx="1062.2" cy="592.5" r="8.2"/><circle class="b" cx="1068.3" cy="517.2" r="8.2"/><circle class="c" cx="1067.5" cy="584.3" r="8.2"/><circle class="a" cx="1071.3" cy="502.1" r="8.2"/><circle class="c" cx="1073.5" cy="584.3" r="8.2"/><circle class="a" cx="1077.3" cy="496.1" r="8.2"/><circle class="b" cx="1078.8" cy="505.1" r="8.2"/><circle class="c" cx="1079.6" cy="593.3" r="8.2"/><circle class="b" cx="1086.3" cy="493.1" r="8.2"/><circle class="c" cx="1084.8" cy="581.2" r="8.2"/><circle class="b" cx="1090.9" cy="481" r="8.2"/><circle class="c" cx="1090.9" cy="568.4" r="8.2"/><circle class="a" cx="1095.4" cy="467.4" r="8.2"/><circle class="b" cx="1096.9" cy="485.5" r="8.2"/><circle class="b" cx="1098.4" cy="490" r="8.2"/><circle class="c" cx="1096.1" cy="581.2" r="8.2"/><circle class="b" cx="1100.7" cy="456.9" r="8.2"/><circle class="c" cx="1101.4" cy="585.8" r="8.2"/><circle class="a" cx="1105.9" cy="461.4" r="8.2"/><circle class="c" cx="1107.4" cy="597.8" r="8.2"/><circle class="a" cx="1112" cy="458.4" r="8.2"/><circle class="b" cx="1113.5" cy="450.9" r="8.2"/><circle class="c" cx="1112" cy="590.3" r="8.2"/><circle class="a" cx="1119.5" cy="457.6" r="8.2"/><circle class="c" cx="1119.5" cy="576.7" r="8.2"/><circle class="a" cx="1124.8" cy="497.6" r="8.2"/><circle class="a" cx="1125.5" cy="536.8" r="8.2"/><circle class="a" cx="1127" cy="593.3" r="8.2"/><circle class="c" cx="1124" cy="588.8" r="8.2"/><circle class="a" cx="1130" cy="603.9" r="8.2"/><circle class="c" cx="1130" cy="599.3" r="8.2"/><circle class="a" cx="1136.1" cy="502.1" r="8.2"/><circle class="a" cx="1136.1" cy="606.1" r="8.2"/><circle class="a" cx="1141.3" cy="481" r="8.2"/><circle class="b" cx="1142.1" cy="491.6" r="8.2"/><circle class="c" cx="1142.1" cy="590.3" r="8.2"/><circle class="a" cx="1148.1" cy="470.5" r="8.2"/><circle class="c" cx="1148.1" cy="597.1" r="8.2"/><circle class="a" cx="1152.7" cy="479.5" r="8.2"/><circle class="c" cx="1152.7" cy="631.7" r="8.2"/><circle class="a" cx="1157.2" cy="485.5" r="8.2"/><circle class="a" cx="1158.7" cy="502.1" r="8.2"/><circle class="c" cx="1158.7" cy="628.7" r="8.2"/><circle class="a" cx="1164.7" cy="491.6" r="8.2"/><circle class="a" cx="1164.7" cy="500.6" r="8.2"/><circle class="c" cx="1164.7" cy="639.3" r="8.2"/><circle class="a" cx="1170.7" cy="478" r="8.2"/><circle class="c" cx="1169.2" cy="613.6" r="8.2"/><circle class="a" cx="1176" cy="470.5" r="8.2"/><circle class="a" cx="1176" cy="482.5" r="8.2"/><circle class="c" cx="1175.3" cy="601.6" r="8.2"/><circle class="a" cx="1182" cy="452.4" r="8.2"/><circle class="c" cx="1181.3" cy="612.9" r="8.2"/><circle class="a" cx="1188.1" cy="441.1" r="8.2"/><circle class="c" cx="1188.1" cy="602.3" r="8.2"/><circle class="b" cx="1193.3" cy="512.7" r="8.2"/><circle class="c" cx="1193.3" cy="577.5" r="8.2"/>
</g>
<path d="M344.3,465.9 L351.8,462.2 L356.3,475 M372.9,514.2 L385,621.2 L396.3,704.8 M510.8,413.2 L510.8,427.5 L516.1,458.4 M544.7,433.5 L544.7,475 M594.4,591.8 L600,588.8 M704,676.2 L710,689.8 M743.2,569.2 L743.2,603.9 L749.2,584.3 L753.7,576.7 L755.2,600.8 L759.8,563.2 L761.3,587.3 L764.3,517.2 L765.8,535.3 L767.3,534.5 M817,558.6 L817.8,569.2 M869,520.2 L869,529.2 L873.5,487 L878.8,485.5 M902.9,521.7 L902.9,548.1 L907.5,587.3 L907.5,597.8 L910,520.2 M925.8,514.2 L929.6,551.1 L932.6,524.7 L934.9,552.6 L941.7,560.9 L948.4,555.6 L953.7,578.2 L954.5,538.3 L954.5,539.8 M1022.3,545.1 L1022.3,558.6 M1068.3,517.2 L1078.8,505.1 L1086.3,493.1 L1090.9,481 L1096.9,485.5 L1098.4,490 L1100.7,456.9 L1113.5,450.9" fill="none" stroke="#7d5aa0" stroke-width="1.1"/>
<path d="M314.1,352.1 L321.7,349.1 L328.4,388.3 L333,465.9 L338.2,476.5 L339.7,482.5 M356.3,481 L360.8,475 L368.4,459.9 L378.9,603.1 L379.7,536 L391,599.3 L402.3,751.6 L408.3,696.5 M441.5,368 L446.7,371 L454,375.5 M470.1,458.4 L470.1,489.3 L478.4,526.2 L480.7,566.2 L487.4,574.5 L493.5,564.7 L494.2,559.4 L498.7,511.1 L499.5,465.9 L504.8,428.3 L510.8,407.2 L516.1,484 L522.1,484 L528.1,449.4 L528.1,456.9 L531.1,426.7 L539.4,411.7 L544.7,425.2 L550,491.6 L550.7,514.2 L556,508.1 L562,554.1 L562,573.7 L566.6,598.6 L568.1,608.4 L573.3,608.4 L577.9,600.8 L584.6,614.4 L586.2,594.8 L597.5,603.9 L602.3,603.9 L603,641.5 L604.5,653.6 L608.3,644.5 L612.8,628 L622.6,662.6 L627.1,668.7 L633.2,673.2 L634.7,659.6 L641.4,661.1 L641.4,672.4 L645.2,686.7 L652,685.2 L654.3,692.8 L658.8,704.8 L664.1,735 L664.8,710.9 L670.1,689.8 L675.4,701.8 L675.4,712.4 M690.4,692.8 L693.4,682.2 L704,673.2 L714.5,687.5 L720.6,663.4 L732.6,621.9 L732.6,626.5 L737.2,572.2 L737.9,538.3 L743.2,607.6 M765.8,512.7 L771.8,511.1 L771.8,529.2 L777.1,508.9 L782.4,518.7 L783.1,506.6 L788.4,549.6 L789.1,515.7 L795.2,585.8 L795.9,567.7 L797.4,558.6 L806.5,539.8 L806.5,543.6 L814,552.6 L818.5,551.1 L822.3,587.3 L827.6,581.2 L832.1,578.2 M845.7,572.2 L851.7,561.7 L856.2,560.1 L863.8,563.2 L869,512.7 L872.8,493.1 M886.4,482.5 L891.6,484.8 L891.6,515.7 L896.9,555.6 L896.9,572.2 L910,658.1 L919.8,556.4 L919.8,658.9 L925.1,520.2 L931.9,532.2 L934.1,566.2 M960.5,606.1 L965.8,571.4 L965.8,592.5 L970.3,536.8 L971.8,561.7 L976.3,526.2 L982.3,523.2 L988.4,526.2 L993.6,517.2 L994.4,508.1 L996.7,567.7 L999.7,545.1 L1009.5,532.2 L1014,561.7 L1021.5,532.2 L1027.6,542.1 L1029.1,551.9 L1030.6,535.3 L1038.1,526.2 L1039.6,535.3 L1045.6,491.6 L1045.6,497.6 L1050.2,524.7 L1050.9,508.1 L1054.7,514.2 L1063.7,509.6 L1071.3,502.1 L1077.3,496.1 M1095.4,467.4 L1105.9,461.4 L1112,458.4 L1119.5,457.6 L1124.8,497.6 L1125.5,536.8 L1127,593.3 L1130,603.9 L1136.1,502.1 L1136.1,606.1 L1141.3,481 L1148.1,470.5 L1152.7,479.5 L1157.2,485.5 L1158.7,502.1 L1164.7,491.6 L1164.7,500.6 L1170.7,478 L1176,470.5 L1176,482.5 L1182,452.4 L1188.1,441.1" fill="none" stroke="#ffcc22" stroke-width="1.1"/>
<path d="M317.1,308.9 L322.4,289.6 L328.4,341.6 L333.7,410.2 L339,413.9 L345.8,406.4 L351.5,421.5 L356.3,435 L363.1,438 L368.4,475 L373.6,485.5 L380.4,507.4 L385.4,459.1 L390.7,485.5 L396.3,478 L402.3,479.5 L408.3,461.4 L413.6,449.4 L419.6,444.1 L424.9,513.4 L430.2,501.3 L436.9,508.1 L442.2,473.5 L447.5,440.3 L453.5,422.2 L458.8,413.2 L464.8,438.8 L470.9,449.4 L476.1,478.7 L482.2,510.4 L493.5,526.2 L499.5,533.8 L507,503.6 L511.6,504.4 L516.1,476.5 L522.1,530.7 L527.4,566.2 L529.6,575.2 L538.7,579.7 L544.7,596.3 L549.2,599.3 L556,614.4 L567.3,628.7 L573.3,646.8 L578.6,658.1 L584.6,670.9 L589.9,683.7 L594.4,701.8 L598.2,734.2 L601.5,701.8 L603,733.5 L613.6,722.9 L618.8,738 L624.1,710.9 L630.1,727.4 L634.7,735 L641.4,727.4 L646.7,741 L652.8,739.5 L658.8,747 L664.1,778.7 L669.3,756.1 L675.4,750 L681.4,741 L685.9,712.4 L691.9,706.3 L698.7,703.3 L704,725.9 L707,736.5 L714.5,741 L720.6,733.5 L726.6,741 L732.6,760.6 L737.9,744 L743.9,715.4 L755.2,704.8 L759.8,716.9 L765.8,722.9 L771.8,719.9 L777.8,715.4 L783.9,701.8 L789.1,683.7 L795.2,662.6 L800.5,643 L806.5,641.5 L812.5,641.5 L817,638.5 L823.1,635.5 L829.1,659.6 L835.1,674.7 L846.4,656.6 L850.2,673.2 L856.2,665.6 L863.8,673.2 L869.8,650.6 L874.3,688.3 L878.8,704.8 L884.9,697.3 L891.6,692.8 L896.9,707.8 L902.9,698.8 L913,716.9 L915.3,672.4 L919.8,640.8 L925.8,617.4 L931.1,607.6 L937.1,586.5 L942.4,582 L946.9,608.4 L953,612.1 L959.7,612.1 L965.8,656.6 L970.3,686.7 L974.8,674.7 L982.3,682.2 L988.4,673.2 L994.4,671.7 L1000.4,692.8 L1005,661.1 L1011,660.4 L1015.5,668.7 L1021.5,668.7 L1029.1,661.9 L1032.8,647.6 L1038.1,640 L1045.6,647.6 L1050.9,631 L1056.9,613.6 L1062.2,592.5 L1067.5,584.3 L1073.5,584.3 L1079.6,593.3 L1084.8,581.2 L1090.9,568.4 L1096.1,581.2 L1101.4,585.8 L1107.4,597.8 L1112,590.3 L1119.5,576.7 L1124,588.8 L1130,599.3 L1142.1,590.3 L1148.1,597.1 L1152.7,631.7 L1158.7,628.7 L1164.7,639.3 L1169.2,613.6 L1175.3,601.6 L1181.3,612.9 L1188.1,602.3 L1193.3,577.5" fill="none" stroke="#ff8466" stroke-width="1.1"/>
<g stroke="#2b1a12" stroke-width="1.05">
<circle class="a" cx="1463.8" cy="223.3" r="8.2"/><circle class="c" cx="1464.6" cy="159.3" r="8.2"/><circle class="c" cx="1464.6" cy="192.4" r="8.2"/><circle class="a" cx="1472.9" cy="245.2" r="8.2"/><circle class="b" cx="1469.9" cy="233.1" r="8.2"/><circle class="c" cx="1469.1" cy="127.6" r="8.2"/><circle class="c" cx="1475.1" cy="118.6" r="8.2"/><circle class="a" cx="1479.7" cy="243.7" r="8.2"/><circle class="c" cx="1481.2" cy="127.6" r="8.2"/><circle class="a" cx="1485.7" cy="240.6" r="8.2"/><circle class="a" cx="1490.2" cy="237.6" r="8.2"/><circle class="c" cx="1487.2" cy="179.6" r="8.2"/><circle class="b" cx="1494.7" cy="239.1" r="8.2"/><circle class="c" cx="1491.7" cy="163" r="8.2"/><circle class="a" cx="1497" cy="249.7" r="8.2"/><circle class="b" cx="1501.5" cy="248.2" r="8.2"/><circle class="b" cx="1502.3" cy="228.6" r="8.2"/><circle class="c" cx="1498.5" cy="166.8" r="8.2"/><circle class="c" cx="1504.5" cy="177.3" r="8.2"/><circle class="c" cx="1504.5" cy="183.4" r="8.2"/><circle class="a" cx="1512.8" cy="248.2" r="8.2"/><circle class="c" cx="1509.8" cy="255.7" r="8.2"/><circle class="c" cx="1515.8" cy="280.6" r="8.2"/><circle class="b" cx="1520.4" cy="237.6" r="8.2"/><circle class="c" cx="1521.1" cy="313.7" r="8.2"/><circle class="c" cx="1521.1" cy="322.8" r="8.2"/><circle class="a" cx="1526.4" cy="227.8" r="8.2"/><circle class="c" cx="1526.4" cy="251.9" r="8.2"/><circle class="a" cx="1532.4" cy="233.1" r="8.2"/><circle class="b" cx="1533.9" cy="234.6" r="8.2"/><circle class="c" cx="1532.4" cy="261.7" r="8.2"/><circle class="c" cx="1537.7" cy="283.6" r="8.2"/><circle class="c" cx="1539.2" cy="316" r="8.2"/><circle class="a" cx="1543.7" cy="230.1" r="8.2"/><circle class="b" cx="1543.7" cy="290.4" r="8.2"/><circle class="b" cx="1543.7" cy="297.9" r="8.2"/><circle class="c" cx="1544.5" cy="319" r="8.2"/><circle class="a" cx="1550.5" cy="242.2" r="8.2"/><circle class="b" cx="1549" cy="245.2" r="8.2"/><circle class="c" cx="1549.7" cy="326.6" r="8.2"/><circle class="c" cx="1555" cy="300.9" r="8.2"/><circle class="a" cx="1561.1" cy="231.6" r="8.2"/><circle class="a" cx="1562.6" cy="249.7" r="8.2"/><circle class="c" cx="1561.1" cy="310" r="8.2"/><circle class="c" cx="1565.6" cy="353.7" r="8.2"/><circle class="c" cx="1570.1" cy="364.2" r="8.2"/><circle class="a" cx="1571.6" cy="254.2" r="8.2"/><circle class="a" cx="1574.6" cy="240.6" r="8.2"/><circle class="c" cx="1577.6" cy="361.2" r="8.2"/><circle class="a" cx="1582.2" cy="234.6" r="8.2"/><circle class="c" cx="1583.7" cy="344.6" r="8.2"/><circle class="a" cx="1589.7" cy="239.1" r="8.2"/><circle class="c" cx="1589.7" cy="331.1" r="8.2"/><circle class="a" cx="1595.7" cy="240.6" r="8.2"/><circle class="c" cx="1594.2" cy="317.5" r="8.2"/><circle class="c" cx="1595.7" cy="302.4" r="8.2"/><circle class="c" cx="1598.7" cy="267" r="8.2"/><circle class="a" cx="1600.2" cy="252.7" r="8.2"/><circle class="c" cx="1601.7" cy="284.4" r="8.2"/><circle class="a" cx="1606.3" cy="255.7" r="8.2"/><circle class="c" cx="1607" cy="282.8" r="8.2"/><circle class="b" cx="1612.3" cy="255.7" r="8.2"/><circle class="c" cx="1612.3" cy="313" r="8.2"/><circle class="a" cx="1618.3" cy="263.3" r="8.2"/><circle class="b" cx="1618.3" cy="297.9" r="8.2"/><circle class="c" cx="1618.3" cy="312.2" r="8.2"/><circle class="a" cx="1624.4" cy="260.2" r="8.2"/><circle class="c" cx="1623.6" cy="332.6" r="8.2"/><circle class="a" cx="1628.9" cy="274.6" r="8.2"/><circle class="c" cx="1629.6" cy="346.1" r="8.2"/><circle class="a" cx="1634.9" cy="347.7" r="8.2"/><circle class="a" cx="1634.9" cy="370.3" r="8.2"/><circle class="c" cx="1634.1" cy="371.8" r="8.2"/><circle class="c" cx="1638.7" cy="395.3" r="8.2"/><circle class="a" cx="1640.9" cy="293.4" r="8.2"/><circle class="a" cx="1640.9" cy="313" r="8.2"/><circle class="a" cx="1640.9" cy="331.1" r="8.2"/><circle class="c" cx="1640.2" cy="421.7" r="8.2"/><circle class="a" cx="1646.2" cy="263.3" r="8.2"/><circle class="a" cx="1646.2" cy="273.8" r="8.2"/><circle class="c" cx="1645.5" cy="401.4" r="8.2"/><circle class="c" cx="1646.2" cy="427.8" r="8.2"/><circle class="a" cx="1650.7" cy="305.5" r="8.2"/><circle class="c" cx="1651.5" cy="390.1" r="8.2"/><circle class="a" cx="1657.5" cy="290.4" r="8.2"/><circle class="a" cx="1657.5" cy="302.4" r="8.2"/><circle class="c" cx="1657.5" cy="407.4" r="8.2"/><circle class="b" cx="1663.5" cy="323.5" r="8.2"/><circle class="c" cx="1663.5" cy="384" r="8.2"/><circle class="a" cx="1668.1" cy="331.1" r="8.2"/><circle class="c" cx="1668.8" cy="436.8" r="8.2"/><circle class="a" cx="1674.1" cy="311.5" r="8.2"/><circle class="c" cx="1674.1" cy="439.8" r="8.2"/><circle class="a" cx="1680.9" cy="285.9" r="8.2"/><circle class="c" cx="1680.1" cy="442.8" r="8.2"/><circle class="a" cx="1685.4" cy="308.5" r="8.2"/><circle class="a" cx="1686.1" cy="367.2" r="8.2"/><circle class="c" cx="1686.1" cy="427" r="8.2"/><circle class="c" cx="1689.2" cy="456.4" r="8.2"/><circle class="b" cx="1692.2" cy="331.1" r="8.2"/><circle class="a" cx="1697.4" cy="303.9" r="8.2"/><circle class="c" cx="1697.4" cy="449.6" r="8.2"/><circle class="a" cx="1702.7" cy="355.2" r="8.2"/><circle class="c" cx="1702.7" cy="464.7" r="8.2"/><circle class="b" cx="1708.8" cy="323.5" r="8.2"/><circle class="b" cx="1708.8" cy="341.6" r="8.2"/><circle class="c" cx="1708.8" cy="424.7" r="8.2"/><circle class="a" cx="1714.8" cy="343.1" r="8.2"/><circle class="a" cx="1714.8" cy="365.7" r="8.2"/><circle class="c" cx="1714" cy="451.9" r="8.2"/><circle class="b" cx="1720.1" cy="412.7" r="8.2"/><circle class="b" cx="1720.8" cy="466.9" r="8.2"/><circle class="c" cx="1720.1" cy="461.7" r="8.2"/><circle class="a" cx="1726.1" cy="424.7" r="8.2"/><circle class="a" cx="1726.8" cy="459.4" r="8.2"/><circle class="c" cx="1726.1" cy="491.1" r="8.2"/><circle class="a" cx="1734.4" cy="453.4" r="8.2"/><circle class="c" cx="1731.4" cy="480.5" r="8.2"/><circle class="a" cx="1738.9" cy="412.7" r="8.2"/><circle class="a" cx="1738.9" cy="463.9" r="8.2"/><circle class="a" cx="1740.4" cy="423.2" r="8.2"/><circle class="c" cx="1737.4" cy="460.9" r="8.2"/><circle class="a" cx="1741.9" cy="399.1" r="8.2"/><circle class="a" cx="1744.9" cy="405.1" r="8.2"/><circle class="c" cx="1741.9" cy="446.6" r="8.2"/><circle class="a" cx="1747.9" cy="426.2" r="8.2"/><circle class="b" cx="1751" cy="442.8" r="8.2"/><circle class="c" cx="1747.9" cy="409.7" r="8.2"/><circle class="b" cx="1756.5" cy="447.3" r="8.2"/><circle class="c" cx="1752.5" cy="371" r="8.2"/><circle class="c" cx="1752.5" cy="384" r="8.2"/><circle class="a" cx="1758" cy="436.8" r="8.2"/><circle class="b" cx="1762.5" cy="405.1" r="8.2"/><circle class="c" cx="1760.3" cy="384" r="8.2"/><circle class="a" cx="1764" cy="417.2" r="8.2"/><circle class="a" cx="1765.6" cy="430.8" r="8.2"/><circle class="c" cx="1765.6" cy="364.2" r="8.2"/><circle class="a" cx="1770.1" cy="411.2" r="8.2"/><circle class="c" cx="1771.6" cy="363.5" r="8.2"/><circle class="a" cx="1777.6" cy="394.6" r="8.2"/><circle class="c" cx="1777.6" cy="381" r="8.2"/><circle class="a" cx="1782.9" cy="383.3" r="8.2"/><circle class="c" cx="1782.9" cy="407.4" r="8.2"/><circle class="a" cx="1788.2" cy="474.5" r="8.2"/><circle class="c" cx="1788.2" cy="457.9" r="8.2"/><circle class="a" cx="1794.2" cy="512.2" r="8.2"/><circle class="c" cx="1793.4" cy="487.3" r="8.2"/><circle class="a" cx="1800.2" cy="560.4" r="8.2"/><circle class="a" cx="1803.2" cy="522.7" r="8.2"/><circle class="c" cx="1799.5" cy="479" r="8.2"/><circle class="a" cx="1804.7" cy="531.7" r="8.2"/><circle class="c" cx="1804.7" cy="500.8" r="8.2"/><circle class="a" cx="1811.5" cy="540.8" r="8.2"/><circle class="c" cx="1810.8" cy="513.7" r="8.2"/><circle class="a" cx="1816.8" cy="492.6" r="8.2"/><circle class="a" cx="1816.8" cy="500.1" r="8.2"/><circle class="c" cx="1816.8" cy="521.9" r="8.2"/><circle class="a" cx="1822.8" cy="419.5" r="8.2"/><circle class="c" cx="1822.1" cy="550.6" r="8.2"/><circle class="a" cx="1828.9" cy="465.4" r="8.2"/><circle class="c" cx="1827.3" cy="562.6" r="8.2"/><circle class="a" cx="1833.4" cy="431.5" r="8.2"/><circle class="c" cx="1833.4" cy="539.3" r="8.2"/><circle class="c" cx="1837.1" cy="564.9" r="8.2"/><circle class="a" cx="1839.4" cy="445.1" r="8.2"/><circle class="c" cx="1840.9" cy="560.4" r="8.2"/><circle class="a" cx="1845.4" cy="503.1" r="8.2"/><circle class="b" cx="1850" cy="553.6" r="8.2"/><circle class="b" cx="1851.5" cy="526.5" r="8.2"/><circle class="c" cx="1850" cy="572.4" r="8.2"/><circle class="b" cx="1857.5" cy="471.5" r="8.2"/><circle class="b" cx="1857.5" cy="485.8" r="8.2"/><circle class="c" cx="1856.7" cy="592.8" r="8.2"/><circle class="a" cx="1862" cy="551.3" r="8.2"/><circle class="a" cx="1862" cy="580" r="8.2"/><circle class="c" cx="1862.8" cy="566.4" r="8.2"/><circle class="a" cx="1868" cy="525" r="8.2"/><circle class="c" cx="1868" cy="550.6" r="8.2"/><circle class="b" cx="1874.1" cy="442.1" r="8.2"/><circle class="b" cx="1874.1" cy="497.8" r="8.2"/><circle class="c" cx="1874.1" cy="583" r="8.2"/><circle class="a" cx="1880.1" cy="459.4" r="8.2"/><circle class="c" cx="1879.3" cy="576.2" r="8.2"/><circle class="a" cx="1884.6" cy="468.4" r="8.2"/><circle class="c" cx="1885.4" cy="554.4" r="8.2"/><circle class="b" cx="1890.6" cy="473" r="8.2"/><circle class="b" cx="1890.6" cy="483.5" r="8.2"/><circle class="c" cx="1890.6" cy="530.2" r="8.2"/><circle class="a" cx="1896.7" cy="454.9" r="8.2"/><circle class="c" cx="1896.7" cy="543" r="8.2"/><circle class="b" cx="1901.2" cy="494.1" r="8.2"/><circle class="c" cx="1901.9" cy="546.8" r="8.2"/><circle class="b" cx="1908" cy="487.3" r="8.2"/><circle class="c" cx="1908" cy="550.6" r="8.2"/><circle class="b" cx="1914" cy="472.2" r="8.2"/><circle class="c" cx="1913.3" cy="526.5" r="8.2"/><circle class="c" cx="1918.5" cy="534.8" r="8.2"/><circle class="b" cx="1928.3" cy="451.9" r="8.2"/><circle class="c" cx="1924.6" cy="540" r="8.2"/><circle class="c" cx="1930.6" cy="606.3" r="8.2"/><circle class="a" cx="1935.9" cy="450.4" r="8.2"/><circle class="a" cx="1936.6" cy="462.4" r="8.2"/><circle class="c" cx="1935.9" cy="619.2" r="8.2"/><circle class="a" cx="1942.6" cy="470" r="8.2"/><circle class="c" cx="1942.6" cy="626.7" r="8.2"/><circle class="a" cx="1947.9" cy="488" r="8.2"/><circle class="c" cx="1947.9" cy="638.8" r="8.2"/><circle class="a" cx="1953.9" cy="578.5" r="8.2"/><circle class="c" cx="1953.4" cy="689.9" r="8.2"/><circle class="a" cx="1958.5" cy="488" r="8.2"/><circle class="c" cx="1959.6" cy="710.1" r="8.2"/><circle class="a" cx="1964.5" cy="471.5" r="8.2"/><circle class="b" cx="1964.5" cy="485.8" r="8.2"/><circle class="b" cx="1964.5" cy="553.6" r="8.2"/><circle class="c" cx="1965" cy="734.2" r="8.2"/><circle class="a" cx="1970.5" cy="548.3" r="8.2"/><circle class="a" cx="1973.5" cy="522.7" r="8.2"/><circle class="c" cx="1970.5" cy="665" r="8.2"/><circle class="a" cx="1976.6" cy="601.8" r="8.2"/><circle class="c" cx="1975.9" cy="652.6" r="8.2"/><circle class="a" cx="1981.8" cy="555.9" r="8.2"/><circle class="b" cx="1982.6" cy="528.7" r="8.2"/><circle class="c" cx="1981.1" cy="638.8" r="8.2"/><circle class="b" cx="1987.1" cy="497.8" r="8.2"/><circle class="b" cx="1987.1" cy="515.9" r="8.2"/><circle class="c" cx="1987.9" cy="637.2" r="8.2"/><circle class="a" cx="1993.1" cy="540.8" r="8.2"/><circle class="a" cx="1993.1" cy="578.5" r="8.2"/><circle class="c" cx="1993.9" cy="614.6" r="8.2"/><circle class="a" cx="1999.2" cy="492.6" r="8.2"/><circle class="a" cx="1999.2" cy="531.7" r="8.2"/><circle class="b" cx="2002.2" cy="513.7" r="8.2"/><circle class="c" cx="1997.7" cy="595.8" r="8.2"/><circle class="a" cx="2006.7" cy="510.6" r="8.2"/><circle class="c" cx="2004.4" cy="592" r="8.2"/><circle class="c" cx="2010.5" cy="619.2" r="8.2"/><circle class="b" cx="2014.2" cy="500.1" r="8.2"/><circle class="c" cx="2017.2" cy="619.2" r="8.2"/><circle class="a" cx="2021.8" cy="549.8" r="8.2"/><circle class="b" cx="2021.8" cy="540.8" r="8.2"/><circle class="b" cx="2023.3" cy="506.1" r="8.2"/><circle class="b" cx="2026.3" cy="525.7" r="8.2"/><circle class="b" cx="2029.3" cy="497.1" r="8.2"/><circle class="c" cx="2026.3" cy="617.7" r="8.2"/><circle class="c" cx="2032.3" cy="622.2" r="8.2"/><circle class="a" cx="2040.3" cy="514.4" r="8.2"/><circle class="c" cx="2038.3" cy="626.7" r="8.2"/><circle class="a" cx="2043.7" cy="485.5" r="8.2"/><circle class="a" cx="2044.4" cy="480.5" r="8.2"/><circle class="a" cx="2044.4" cy="515.2" r="8.2"/><circle class="a" cx="2047.1" cy="504.2" r="8.2"/><circle class="c" cx="2044.4" cy="623.7" r="8.2"/><circle class="b" cx="2050.4" cy="480.5" r="8.2"/><circle class="b" cx="2050.4" cy="501.6" r="8.2"/><circle class="c" cx="2050.4" cy="631.2" r="8.2"/><circle class="a" cx="2053.9" cy="470.1" r="8.2"/><circle class="a" cx="2057.9" cy="457.9" r="8.2"/><circle class="a" cx="2062.5" cy="427.8" r="8.2"/><circle class="a" cx="2062.5" cy="441.3" r="8.2"/><circle class="a" cx="2064" cy="470" r="8.2"/><circle class="c" cx="2059.4" cy="626.7" r="8.2"/><circle class="c" cx="2062.5" cy="608.6" r="8.2"/><circle class="a" cx="2067.5" cy="429.3" r="8.2"/><circle class="a" cx="2075" cy="431" r="8.2"/><circle class="a" cx="2075" cy="544.3" r="8.2"/><circle class="b" cx="2074.3" cy="437.8" r="8.2"/><circle class="a" cx="2079.5" cy="521.7" r="8.2"/><circle class="b" cx="2079.5" cy="447.6" r="8.2"/><circle class="b" cx="2080.3" cy="530.7" r="8.2"/><circle class="b" cx="2081" cy="568.4" r="8.2"/><circle class="c" cx="2079.5" cy="583.4" r="8.2"/><circle class="b" cx="2084" cy="709.3" r="8.2"/><circle class="c" cx="2090.1" cy="548" r="8.2"/><circle class="b" cx="2094.6" cy="583.4" r="8.2"/><circle class="c" cx="2096.1" cy="565.4" r="8.2"/><circle class="a" cx="2101.4" cy="503.6" r="8.2"/><circle class="a" cx="2101.4" cy="514.9" r="8.2"/><circle class="c" cx="2101.4" cy="578.9" r="8.2"/><circle class="a" cx="2107.4" cy="460.4" r="8.2"/><circle class="c" cx="2107.4" cy="597.8" r="8.2"/><circle class="a" cx="2113.4" cy="483.8" r="8.2"/><circle class="a" cx="2113.4" cy="518.6" r="8.2"/><circle class="c" cx="2113.4" cy="611.3" r="8.2"/><circle class="c" cx="2113.4" cy="619.6" r="8.2"/><circle class="a" cx="2118.7" cy="548" r="8.2"/><circle class="a" cx="2118.7" cy="574.4" r="8.2"/><circle class="c" cx="2118.7" cy="625.6" r="8.2"/><circle class="a" cx="2124" cy="536" r="8.2"/><circle class="a" cx="2124.7" cy="556.3" r="8.2"/><circle class="a" cx="2124.7" cy="563.1" r="8.2"/><circle class="c" cx="2124" cy="630.9" r="8.2"/><circle class="a" cx="2130" cy="486.8" r="8.2"/><circle class="a" cx="2130" cy="500.6" r="8.2"/><circle class="c" cx="2129.3" cy="648.3" r="8.2"/><circle class="c" cx="2129.3" cy="661.1" r="8.2"/><circle class="a" cx="2133" cy="643.7" r="8.2"/><circle class="a" cx="2136" cy="515.6" r="8.2"/><circle class="a" cx="2136" cy="544.3" r="8.2"/><circle class="c" cx="2135.3" cy="618.1" r="8.2"/><circle class="c" cx="2135.3" cy="625.6" r="8.2"/><circle class="a" cx="2141.3" cy="690.5" r="8.2"/><circle class="c" cx="2139.8" cy="652.8" r="8.2"/><circle class="c" cx="2141.3" cy="643.7" r="8.2"/><circle class="a" cx="2147.3" cy="660.3" r="8.2"/><circle class="c" cx="2145.8" cy="621.1" r="8.2"/><circle class="c" cx="2145.8" cy="630.9" r="8.2"/><circle class="a" cx="2153.4" cy="636.2" r="8.2"/><circle class="b" cx="2152.6" cy="647.5" r="8.2"/><circle class="b" cx="2152.6" cy="701.8" r="8.2"/><circle class="c" cx="2151.9" cy="613.6" r="8.2"/><circle class="a" cx="2157.9" cy="681.4" r="8.2"/><circle class="a" cx="2157.9" cy="693.5" r="8.2"/><circle class="c" cx="2157.1" cy="595.5" r="8.2"/><circle class="a" cx="2162.4" cy="615.1" r="8.2"/><circle class="a" cx="2163.9" cy="669.4" r="8.2"/><circle class="a" cx="2163.9" cy="680.7" r="8.2"/><circle class="c" cx="2163.9" cy="584.2" r="8.2"/><circle class="a" cx="2170" cy="625.6" r="8.2"/><circle class="a" cx="2170" cy="632.4" r="8.2"/><circle class="c" cx="2166.9" cy="602.3" r="8.2"/><circle class="a" cx="2174.5" cy="539.7" r="8.2"/><circle class="a" cx="2174.5" cy="595.5" r="8.2"/><circle class="c" cx="2176" cy="609.8" r="8.2"/><circle class="a" cx="2180.5" cy="525.4" r="8.2"/><circle class="a" cx="2181.3" cy="545.8" r="8.2"/><circle class="c" cx="2181.3" cy="561.6" r="8.2"/><circle class="a" cx="2187.3" cy="516.4" r="8.2"/><circle class="a" cx="2187.3" cy="533" r="8.2"/><circle class="c" cx="2186.5" cy="589.5" r="8.2"/><circle class="a" cx="2191.8" cy="442.3" r="8.2"/><circle class="c" cx="2192.6" cy="594" r="8.2"/><circle class="a" cx="2197.1" cy="444.6" r="8.2"/><circle class="a" cx="2197.8" cy="419.7" r="8.2"/><circle class="c" cx="2198.6" cy="592.5" r="8.2"/><circle class="a" cx="2203.1" cy="434" r="8.2"/><circle class="a" cx="2203.9" cy="420.5" r="8.2"/><circle class="c" cx="2203.9" cy="578.9" r="8.2"/><circle class="a" cx="2209.9" cy="431" r="8.2"/><circle class="a" cx="2210.6" cy="443.1" r="8.2"/><circle class="c" cx="2209.1" cy="535.2" r="8.2"/><circle class="a" cx="2215.2" cy="450.6" r="8.2"/><circle class="c" cx="2215.2" cy="538.2" r="8.2"/><circle class="a" cx="2219.7" cy="456.6" r="8.2"/><circle class="b" cx="2221.2" cy="492.3" r="8.2"/><circle class="c" cx="2221.2" cy="544.3" r="8.2"/><circle class="a" cx="2225.7" cy="467.2" r="8.2"/><circle class="a" cx="2226.5" cy="450.6" r="8.2"/><circle class="a" cx="2227.2" cy="476.2" r="8.2"/><circle class="b" cx="2225.7" cy="486.8" r="8.2"/><circle class="b" cx="2226.5" cy="464.2" r="8.2"/><circle class="c" cx="2226.5" cy="505.1" r="8.2"/><circle class="b" cx="2237.8" cy="485.3" r="8.2"/><circle class="c" cx="2237.8" cy="506.6" r="8.2"/><circle class="b" cx="2243.8" cy="499" r="8.2"/><circle class="c" cx="2249.1" cy="523.9" r="8.2"/><circle class="a" cx="2254.4" cy="486.8" r="8.2"/><circle class="c" cx="2253.6" cy="511.1" r="8.2"/><circle class="a" cx="2260.4" cy="471.7" r="8.2"/><circle class="c" cx="2260.4" cy="501.3" r="8.2"/><circle class="a" cx="2266.4" cy="476.2" r="8.2"/><circle class="c" cx="2266.4" cy="510.3" r="8.2"/><circle class="a" cx="2269.4" cy="376.7" r="8.2"/><circle class="a" cx="2272.4" cy="384.3" r="8.2"/><circle class="a" cx="2272.4" cy="435.5" r="8.2"/><circle class="a" cx="2272.4" cy="449.1" r="8.2"/><circle class="c" cx="2272.4" cy="488.3" r="8.2"/><circle class="a" cx="2277" cy="375.2" r="8.2"/><circle class="a" cx="2277.7" cy="409.9" r="8.2"/><circle class="a" cx="2277.7" cy="422" r="8.2"/><circle class="c" cx="2277" cy="496.8" r="8.2"/><circle class="a" cx="2283.7" cy="335.3" r="8.2"/><circle class="c" cx="2283" cy="482.2" r="8.2"/><circle class="a" cx="2289" cy="369.2" r="8.2"/><circle class="a" cx="2289" cy="382" r="8.2"/><circle class="a" cx="2289" cy="410.7" r="8.2"/><circle class="a" cx="2295" cy="370" r="8.2"/><circle class="c" cx="2293.5" cy="473.2" r="8.2"/><circle class="a" cx="2301.1" cy="396.3" r="8.2"/><circle class="b" cx="2301.1" cy="400.1" r="8.2"/><circle class="b" cx="2301.1" cy="408.4" r="8.2"/><circle class="c" cx="2301.1" cy="467.2" r="8.2"/><circle class="a" cx="2305.6" cy="450.6" r="8.2"/><circle class="c" cx="2304.1" cy="476.2" r="8.2"/><circle class="a" cx="2311.6" cy="455.1" r="8.2"/><circle class="c" cx="2310.1" cy="486.8" r="8.2"/><circle class="c" cx="2312.4" cy="491.5" r="8.2"/><circle class="c" cx="2313.1" cy="479.2" r="8.2"/><circle class="a" cx="2317.7" cy="452.1" r="8.2"/><circle class="c" cx="2319.2" cy="467.2" r="8.2"/><circle class="a" cx="2323.7" cy="462.7" r="8.2"/><circle class="c" cx="2323.7" cy="476.2" r="8.2"/><circle class="a" cx="2329" cy="543.5" r="8.2"/><circle class="c" cx="2328.2" cy="455.1" r="8.2"/><circle class="a" cx="2335" cy="527.7" r="8.2"/><circle class="a" cx="2335" cy="532.2" r="8.2"/><circle class="c" cx="2334.2" cy="447.6" r="8.2"/><circle class="a" cx="2341" cy="486.8" r="8.2"/><circle class="a" cx="2341" cy="493" r="8.2"/><circle class="a" cx="2341" cy="502.1" r="8.2"/><circle class="a" cx="2341" cy="514.1" r="8.2"/><circle class="c" cx="2340.3" cy="461.1" r="8.2"/><circle class="a" cx="2346.3" cy="360.9" r="8.2"/><circle class="a" cx="2346.3" cy="366.9" r="8.2"/><circle class="b" cx="2346.3" cy="416.7" r="8.2"/><circle class="c" cx="2346.3" cy="459.6" r="8.2"/><circle class="a" cx="2351.6" cy="308.2" r="8.2"/><circle class="a" cx="2351.6" cy="318.7" r="8.2"/><circle class="c" cx="2350.8" cy="467.2" r="8.2"/><circle class="a" cx="2356.8" cy="394.8" r="8.2"/><circle class="c" cx="2357.6" cy="467.2" r="8.2"/><circle class="a" cx="2362.9" cy="382.8" r="8.2"/><circle class="a" cx="2363.6" cy="394.8" r="8.2"/><circle class="a" cx="2364.4" cy="366.9" r="8.2"/><circle class="c" cx="2363.6" cy="450.6" r="8.2"/><circle class="c" cx="2368.9" cy="438.5" r="8.2"/><circle class="a" cx="2374.2" cy="361.7" r="8.2"/><circle class="a" cx="2374.9" cy="369.2" r="8.2"/><circle class="b" cx="2374.9" cy="379.8" r="8.2"/><circle class="c" cx="2374.9" cy="441.6" r="8.2"/>
</g>
<path d="M1494.7,239.1 L1501.5,248.2 L1502.3,228.6 M1533.9,234.6 L1543.7,290.4 L1543.7,297.9 L1549,245.2 M1612.3,255.7 L1618.3,297.9 M1708.8,323.5 L1708.8,341.6 L1720.1,412.7 L1720.8,466.9 M1751,442.8 L1756.5,447.3 L1762.5,405.1 M1850,553.6 L1851.5,526.5 L1857.5,471.5 L1857.5,485.8 M1874.1,442.1 L1874.1,497.8 M1890.6,473 L1890.6,483.5 L1901.2,494.1 L1908,487.3 L1914,472.2 M1964.5,485.8 L1964.5,553.6 M1982.6,528.7 L1987.1,497.8 L1987.1,515.9 M2002.2,513.7 L2014.2,500.1 L2021.8,540.8 L2023.3,506.1 L2026.3,525.7 L2029.3,497.1 M2050.4,480.5 L2050.4,501.6 M2074.3,437.8 L2079.5,447.6 L2080.3,530.7 L2081,568.4 L2084,709.3 L2094.6,583.4 M2152.6,647.5 L2152.6,701.8 M2221.2,492.3 L2225.7,486.8 L2226.5,464.2 L2237.8,485.3 L2243.8,499 M2301.1,400.1 L2301.1,408.4" fill="none" stroke="#7d5aa0" stroke-width="1.1"/>
<path d="M1463.8,223.3 L1472.9,245.2 L1479.7,243.7 L1485.7,240.6 L1490.2,237.6 L1497,249.7 M1526.4,227.8 L1532.4,233.1 L1543.7,230.1 L1550.5,242.2 L1561.1,231.6 L1562.6,249.7 L1571.6,254.2 L1574.6,240.6 L1582.2,234.6 L1589.7,239.1 L1595.7,240.6 L1600.2,252.7 L1606.3,255.7 L1618.3,263.3 L1624.4,260.2 L1628.9,274.6 L1634.9,347.7 L1634.9,370.3 L1640.9,293.4 L1640.9,313 L1640.9,331.1 L1646.2,263.3 L1646.2,273.8 L1650.7,305.5 L1657.5,290.4 L1657.5,302.4 L1668.1,331.1 L1674.1,311.5 L1680.9,285.9 L1685.4,308.5 L1686.1,367.2 L1697.4,303.9 L1702.7,355.2 L1714.8,343.1 L1714.8,365.7 L1726.1,424.7 L1726.8,459.4 L1734.4,453.4 L1738.9,412.7 L1738.9,463.9 L1740.4,423.2 L1741.9,399.1 L1744.9,405.1 L1747.9,426.2 L1758,436.8 L1764,417.2 L1765.6,430.8 L1770.1,411.2 L1777.6,394.6 L1782.9,383.3 L1788.2,474.5 L1794.2,512.2 L1800.2,560.4 L1803.2,522.7 L1804.7,531.7 L1811.5,540.8 L1816.8,492.6 L1816.8,500.1 L1822.8,419.5 L1828.9,465.4 L1833.4,431.5 L1839.4,445.1 L1845.4,503.1 M1862,551.3 L1862,580 L1868,525 L1880.1,459.4 L1884.6,468.4 L1896.7,454.9 M1935.9,450.4 L1936.6,462.4 L1942.6,470 L1947.9,488 L1953.9,578.5 L1958.5,488 L1964.5,471.5 L1970.5,548.3 L1973.5,522.7 L1976.6,601.8 L1981.8,555.9 L1993.1,540.8 L1993.1,578.5 L1999.2,492.6 L1999.2,531.7 L2006.7,510.6 M2040.3,514.4 L2043.7,485.5 L2044.4,480.5 L2044.4,515.2 L2047.1,504.2 L2053.9,470.1 L2057.9,457.9 L2062.5,427.8 L2062.5,441.3 L2064,470 L2067.5,429.3 L2075,431 L2075,544.3 L2079.5,521.7 M2101.4,503.6 L2101.4,514.9 L2107.4,460.4 L2113.4,483.8 L2113.4,518.6 L2118.7,548 L2118.7,574.4 L2124,536 L2124.7,556.3 L2124.7,563.1 L2130,486.8 L2130,500.6 L2133,643.7 L2136,515.6 L2136,544.3 L2141.3,690.5 L2147.3,660.3 L2153.4,636.2 L2157.9,681.4 L2157.9,693.5 L2162.4,615.1 L2163.9,669.4 L2163.9,680.7 L2170,625.6 L2170,632.4 L2174.5,539.7 L2174.5,595.5 L2180.5,525.4 L2181.3,545.8 L2187.3,516.4 L2187.3,533 L2191.8,442.3 L2197.1,444.6 L2197.8,419.7 L2203.1,434 L2203.9,420.5 L2209.9,431 L2210.6,443.1 L2215.2,450.6 L2219.7,456.6 L2225.7,467.2 L2226.5,450.6 L2227.2,476.2 M2254.4,486.8 L2260.4,471.7 L2266.4,476.2 L2269.4,376.7 L2272.4,384.3 L2272.4,435.5 L2272.4,449.1 L2277,375.2 L2277.7,409.9 L2277.7,422 L2283.7,335.3 L2289,369.2 L2289,382 L2289,410.7 L2295,370 L2301.1,396.3 L2305.6,450.6 L2311.6,455.1 L2317.7,452.1 L2323.7,462.7 L2329,543.5 L2335,527.7 L2335,532.2 L2341,486.8 L2341,493 L2341,502.1 L2341,514.1 L2346.3,360.9 L2346.3,366.9 L2351.6,308.2 L2351.6,318.7 L2356.8,394.8 L2362.9,382.8 L2363.6,394.8 L2364.4,366.9 L2374.2,361.7 L2374.9,369.2" fill="none" stroke="#ffcc22" stroke-width="1.1"/>
<path d="M1464.6,159.3 L1464.6,192.4 L1469.1,127.6 L1475.1,118.6 L1481.2,127.6 L1487.2,179.6 L1491.7,163 L1498.5,166.8 L1504.5,177.3 L1504.5,183.4 L1509.8,255.7 L1515.8,280.6 L1521.1,313.7 L1521.1,322.8 L1526.4,251.9 L1532.4,261.7 L1537.7,283.6 L1539.2,316 L1544.5,319 L1549.7,326.6 L1555,300.9 L1561.1,310 L1565.6,353.7 L1570.1,364.2 L1577.6,361.2 L1583.7,344.6 L1589.7,331.1 L1594.2,317.5 L1595.7,302.4 L1598.7,267 L1601.7,284.4 L1607,282.8 L1612.3,313 L1618.3,312.2 L1623.6,332.6 L1629.6,346.1 L1634.1,371.8 L1638.7,395.3 L1640.2,421.7 L1645.5,401.4 L1646.2,427.8 L1651.5,390.1 L1657.5,407.4 L1663.5,384 L1668.8,436.8 L1674.1,439.8 L1680.1,442.8 L1686.1,427 L1689.2,456.4 L1697.4,449.6 L1702.7,464.7 L1708.8,424.7 L1714,451.9 L1720.1,461.7 L1726.1,491.1 L1731.4,480.5 L1737.4,460.9 L1741.9,446.6 L1747.9,409.7 L1752.5,371 L1752.5,384 L1760.3,384 L1765.6,364.2 L1771.6,363.5 L1777.6,381 L1782.9,407.4 L1788.2,457.9 L1793.4,487.3 L1799.5,479 L1804.7,500.8 L1810.8,513.7 L1816.8,521.9 L1822.1,550.6 L1827.3,562.6 L1833.4,539.3 L1837.1,564.9 L1840.9,560.4 L1850,572.4 L1856.7,592.8 L1862.8,566.4 L1868,550.6 L1874.1,583 L1879.3,576.2 L1885.4,554.4 L1890.6,530.2 L1896.7,543 L1901.9,546.8 L1908,550.6 L1913.3,526.5 L1918.5,534.8 L1924.6,540 L1930.6,606.3 L1935.9,619.2 L1942.6,626.7 L1947.9,638.8 L1953.4,689.9 L1959.6,710.1 L1965,734.2 L1970.5,665 L1975.9,652.6 L1981.1,638.8 L1987.9,637.2 L1993.9,614.6 L1997.7,595.8 L2004.4,592 L2010.5,619.2 L2017.2,619.2 L2026.3,617.7 L2032.3,622.2 L2038.3,626.7 L2044.4,623.7 L2050.4,631.2 L2059.4,626.7 L2062.5,608.6 M2079.5,583.4 L2090.1,548 L2096.1,565.4 L2101.4,578.9 L2107.4,597.8 L2113.4,611.3 L2113.4,619.6 L2118.7,625.6 L2124,630.9 L2129.3,648.3 L2129.3,661.1 L2135.3,618.1 L2135.3,625.6 L2139.8,652.8 L2141.3,643.7 L2145.8,621.1 L2145.8,630.9 L2151.9,613.6 L2157.1,595.5 L2163.9,584.2 L2166.9,602.3 L2176,609.8 L2181.3,561.6 L2186.5,589.5 L2192.6,594 L2198.6,592.5 L2203.9,578.9 L2209.1,535.2 L2215.2,538.2 L2221.2,544.3 L2226.5,505.1 L2237.8,506.6 L2249.1,523.9 L2253.6,511.1 L2260.4,501.3 L2266.4,510.3 L2272.4,488.3 L2277,496.8 L2283,482.2 L2293.5,473.2 L2301.1,467.2 L2304.1,476.2 L2310.1,486.8 L2312.4,491.5 L2313.1,479.2 L2319.2,467.2 L2323.7,476.2 L2328.2,455.1 L2334.2,447.6 L2340.3,461.1 L2346.3,459.6 L2350.8,467.2 L2357.6,467.2 L2363.6,450.6 L2368.9,438.5 L2374.9,441.6" fill="none" stroke="#ff8466" stroke-width="1.1"/>
<g stroke="#2b1a12" stroke-width="1.05">
<circle class="a" cx="220.4" cy="1584.9" r="8.2"/><circle class="c" cx="220.4" cy="1388.5" r="8.2"/><circle class="c" cx="226.2" cy="1444.3" r="8.2"/><circle class="c" cx="232" cy="1547.3" r="8.2"/><circle class="c" cx="237.7" cy="1569.5" r="8.2"/><circle class="c" cx="243.5" cy="1557.9" r="8.2"/><circle class="c" cx="246.4" cy="1513.6" r="8.2"/><circle class="b" cx="249.3" cy="1539.6" r="8.2"/><circle class="b" cx="254.1" cy="1519.4" r="8.2"/><circle class="c" cx="254.1" cy="1502.1" r="8.2"/><circle class="b" cx="259.9" cy="1604.1" r="8.2"/><circle class="c" cx="259.9" cy="1550.2" r="8.2"/><circle class="c" cx="265.6" cy="1513.6" r="8.2"/><circle class="b" cx="271.4" cy="1679.2" r="8.2"/><circle class="c" cx="270.5" cy="1499.2" r="8.2"/><circle class="b" cx="277.2" cy="1614.7" r="8.2"/><circle class="c" cx="277.2" cy="1490.5" r="8.2"/><circle class="a" cx="283" cy="1516.5" r="8.2"/><circle class="c" cx="283" cy="1531.9" r="8.2"/><circle class="b" cx="288.8" cy="1549.2" r="8.2"/><circle class="b" cx="291.6" cy="1587.7" r="8.2"/><circle class="c" cx="288.8" cy="1622.4" r="8.2"/><circle class="c" cx="294.5" cy="1599.3" r="8.2"/><circle class="a" cx="299.3" cy="1660.9" r="8.2"/><circle class="a" cx="299.3" cy="1681.1" r="8.2"/><circle class="c" cx="299.3" cy="1586.8" r="8.2"/><circle class="a" cx="305.1" cy="1692.7" r="8.2"/><circle class="a" cx="306.1" cy="1752.7" r="8.2"/><circle class="c" cx="305.1" cy="1627.2" r="8.2"/><circle class="b" cx="310.9" cy="1798" r="8.2"/><circle class="b" cx="310.9" cy="1810.5" r="8.2"/><circle class="c" cx="309.9" cy="1613.7" r="8.2"/><circle class="a" cx="316.7" cy="1812.4" r="8.2"/><circle class="b" cx="317.6" cy="1819.2" r="8.2"/><circle class="c" cx="316.7" cy="1610.8" r="8.2"/><circle class="a" cx="322.4" cy="1737.3" r="8.2"/><circle class="a" cx="322.4" cy="1782.6" r="8.2"/><circle class="a" cx="324.4" cy="1719.6" r="8.2"/><circle class="b" cx="322.4" cy="1768.1" r="8.2"/><circle class="c" cx="322.4" cy="1598.3" r="8.2"/><circle class="a" cx="328.2" cy="1690.7" r="8.2"/><circle class="c" cx="328.2" cy="1617.6" r="8.2"/><circle class="a" cx="334" cy="1868.2" r="8.2"/><circle class="a" cx="334" cy="2004.9" r="8.2"/><circle class="c" cx="332.5" cy="1719" r="8.2"/><circle class="a" cx="339.8" cy="1987.6" r="8.2"/><circle class="c" cx="339.8" cy="1727.7" r="8.2"/><circle class="a" cx="345.5" cy="1950.1" r="8.2"/><circle class="c" cx="345.5" cy="1767.2" r="8.2"/><circle class="a" cx="351.3" cy="1932.7" r="8.2"/><circle class="a" cx="353.2" cy="1978" r="8.2"/><circle class="b" cx="351.3" cy="1956.8" r="8.2"/><circle class="c" cx="349.4" cy="1803.8" r="8.2"/><circle class="a" cx="357.1" cy="1972.2" r="8.2"/><circle class="c" cx="357.1" cy="1800.9" r="8.2"/><circle class="a" cx="362.9" cy="1985.7" r="8.2"/><circle class="a" cx="364.8" cy="1964.5" r="8.2"/><circle class="c" cx="362.9" cy="1824" r="8.2"/><circle class="b" cx="370.6" cy="1958.7" r="8.2"/><circle class="c" cx="368.7" cy="1853.8" r="8.2"/><circle class="a" cx="374.4" cy="1970.3" r="8.2"/><circle class="b" cx="374.4" cy="1964.5" r="8.2"/><circle class="b" cx="376.4" cy="1947.2" r="8.2"/><circle class="c" cx="374.4" cy="1786.4" r="8.2"/><circle class="b" cx="380.2" cy="1960.7" r="8.2"/><circle class="c" cx="380.2" cy="1800.9" r="8.2"/><circle class="b" cx="386" cy="1941.4" r="8.2"/><circle class="c" cx="384.1" cy="1773.9" r="8.2"/><circle class="c" cx="390.8" cy="1783.5" r="8.2"/><circle class="b" cx="397.5" cy="1937.6" r="8.2"/><circle class="b" cx="397.5" cy="1949.1" r="8.2"/><circle class="c" cx="396.6" cy="1767.2" r="8.2"/><circle class="b" cx="401.4" cy="1896.2" r="8.2"/><circle class="b" cx="402.3" cy="1906.8" r="8.2"/><circle class="c" cx="402.3" cy="1749.8" r="8.2"/><circle class="a" cx="408.1" cy="1892.3" r="8.2"/><circle class="c" cx="407.2" cy="1700.4" r="8.2"/><circle class="a" cx="412.9" cy="1788.3" r="8.2"/><circle class="c" cx="413.9" cy="1709" r="8.2"/><circle class="a" cx="418.7" cy="1791.2" r="8.2"/><circle class="c" cx="419.7" cy="1691.7" r="8.2"/><circle class="a" cx="424.5" cy="1803.8" r="8.2"/><circle class="a" cx="431.2" cy="1787.4" r="8.2"/><circle class="c" cx="429.3" cy="1713.9" r="8.2"/><circle class="a" cx="436" cy="1809.5" r="8.2"/><circle class="c" cx="436" cy="1715.8" r="8.2"/><circle class="a" cx="442.8" cy="1814.3" r="8.2"/><circle class="c" cx="442.8" cy="1707.1" r="8.2"/><circle class="a" cx="447.6" cy="1856.7" r="8.2"/><circle class="c" cx="447.6" cy="1677.3" r="8.2"/><circle class="a" cx="453.4" cy="1881.7" r="8.2"/><circle class="c" cx="453.4" cy="1670.5" r="8.2"/><circle class="b" cx="459.1" cy="1737.3" r="8.2"/><circle class="c" cx="459.1" cy="1661.9" r="8.2"/><circle class="b" cx="464.9" cy="1775.8" r="8.2"/><circle class="c" cx="464.9" cy="1644.5" r="8.2"/><circle class="a" cx="470.7" cy="1763.3" r="8.2"/><circle class="c" cx="470.7" cy="1711.9" r="8.2"/><circle class="a" cx="476.5" cy="1727.7" r="8.2"/><circle class="c" cx="476.5" cy="1733.5" r="8.2"/><circle class="c" cx="481.3" cy="1755.6" r="8.2"/><circle class="a" cx="487.1" cy="1775.8" r="8.2"/><circle class="c" cx="489" cy="1759.5" r="8.2"/><circle class="c" cx="492.8" cy="1757.5" r="8.2"/><circle class="a" cx="498.6" cy="1747" r="8.2"/><circle class="a" cx="501.5" cy="1729.6" r="8.2"/><circle class="c" cx="498.6" cy="1770.1" r="8.2"/><circle class="c" cx="504.4" cy="1782.6" r="8.2"/><circle class="a" cx="509.2" cy="1733.5" r="8.2"/><circle class="c" cx="511.1" cy="1727.7" r="8.2"/><circle class="b" cx="515.9" cy="1748.9" r="8.2"/><circle class="b" cx="515.9" cy="1788.3" r="8.2"/><circle class="c" cx="515.9" cy="1711" r="8.2"/><circle class="a" cx="521.7" cy="1799.9" r="8.2"/><circle class="c" cx="521.7" cy="1771" r="8.2"/><circle class="a" cx="526.5" cy="1816.3" r="8.2"/><circle class="c" cx="527.5" cy="1858.6" r="8.2"/><circle class="a" cx="532.3" cy="1820.1" r="8.2"/><circle class="c" cx="532.3" cy="1891.4" r="8.2"/><circle class="a" cx="537.1" cy="1837.4" r="8.2"/><circle class="c" cx="537.1" cy="1875.9" r="8.2"/><circle class="a" cx="544.8" cy="1822" r="8.2"/><circle class="b" cx="544.8" cy="1807.6" r="8.2"/><circle class="c" cx="544.8" cy="1894.2" r="8.2"/><circle class="a" cx="549.6" cy="1849" r="8.2"/><circle class="a" cx="551.6" cy="1866.3" r="8.2"/><circle class="b" cx="552.5" cy="1831.7" r="8.2"/><circle class="c" cx="549.6" cy="1881.7" r="8.2"/><circle class="c" cx="553.5" cy="1874" r="8.2"/><circle class="b" cx="556.9" cy="1829" r="8.2"/><circle class="a" cx="560.8" cy="1865.6" r="8.2"/><circle class="a" cx="561.7" cy="1838.6" r="8.2"/><circle class="c" cx="560.8" cy="1873.3" r="8.2"/><circle class="a" cx="567.5" cy="1854" r="8.2"/><circle class="a" cx="573.3" cy="1830" r="8.2"/><circle class="c" cx="573.3" cy="1898.3" r="8.2"/><circle class="a" cx="579.1" cy="1842.5" r="8.2"/><circle class="a" cx="579.1" cy="1869.4" r="8.2"/><circle class="c" cx="579.1" cy="1904.1" r="8.2"/><circle class="a" cx="583.9" cy="1936.8" r="8.2"/><circle class="c" cx="584.8" cy="1927.2" r="8.2"/><circle class="a" cx="589.7" cy="1961.8" r="8.2"/><circle class="c" cx="590.6" cy="1944.5" r="8.2"/><circle class="c" cx="596.4" cy="1960.9" r="8.2"/><circle class="c" cx="602.2" cy="1979.2" r="8.2"/><circle class="c" cx="607" cy="1997.5" r="8.2"/><circle class="c" cx="612.8" cy="2000.3" r="8.2"/><circle class="c" cx="618.5" cy="2033.1" r="8.2"/><circle class="a" cx="624.3" cy="1885.8" r="8.2"/><circle class="c" cx="625.3" cy="2027.3" r="8.2"/><circle class="c" cx="630.1" cy="2023.5" r="8.2"/><circle class="c" cx="634.3" cy="2059.9" r="8.2"/><circle class="a" cx="639.7" cy="1929.1" r="8.2"/><circle class="c" cx="641.6" cy="2044.6" r="8.2"/><circle class="b" cx="645.5" cy="1934.9" r="8.2"/><circle class="c" cx="647.2" cy="2062" r="8.2"/><circle class="a" cx="653.2" cy="1935.8" r="8.2"/><circle class="c" cx="651.3" cy="2011.9" r="8.2"/><circle class="a" cx="657" cy="1958" r="8.2"/><circle class="c" cx="659" cy="2014.8" r="8.2"/><circle class="a" cx="662.8" cy="1971.5" r="8.2"/><circle class="c" cx="664.7" cy="1988.8" r="8.2"/><circle class="a" cx="670.5" cy="1954.1" r="8.2"/><circle class="a" cx="674.4" cy="1923.3" r="8.2"/><circle class="b" cx="678.2" cy="1940.7" r="8.2"/><circle class="c" cx="674.4" cy="1981.1" r="8.2"/><circle class="b" cx="680.1" cy="1923.3" r="8.2"/><circle class="c" cx="680.1" cy="1965.7" r="8.2"/><circle class="b" cx="685.9" cy="1950.3" r="8.2"/><circle class="c" cx="685.9" cy="1921.4" r="8.2"/><circle class="c" cx="689.8" cy="1952.2" r="8.2"/><circle class="a" cx="691.7" cy="1984.9" r="8.2"/><circle class="b" cx="697.5" cy="1929.1" r="8.2"/><circle class="c" cx="698.4" cy="1983" r="8.2"/><circle class="b" cx="703.2" cy="1956.1" r="8.2"/><circle class="b" cx="703.2" cy="1997.5" r="8.2"/><circle class="c" cx="707.1" cy="2015.7" r="8.2"/><circle class="a" cx="709" cy="2031.2" r="8.2"/><circle class="c" cx="709" cy="2017.7" r="8.2"/><circle class="a" cx="714.8" cy="1855.9" r="8.2"/><circle class="a" cx="720.6" cy="1876.2" r="8.2"/><circle class="a" cx="720.6" cy="1929.1" r="8.2"/><circle class="c" cx="719.6" cy="1994.6" r="8.2"/><circle class="b" cx="726.4" cy="1848.2" r="8.2"/><circle class="c" cx="726.4" cy="2004.2" r="8.2"/><circle class="a" cx="732.1" cy="1969.5" r="8.2"/><circle class="c" cx="730.2" cy="1992.6" r="8.2"/><circle class="a" cx="737.9" cy="1988.8" r="8.2"/><circle class="b" cx="737.9" cy="1981.1" r="8.2"/><circle class="c" cx="737.9" cy="1946.4" r="8.2"/><circle class="a" cx="743.7" cy="2011.9" r="8.2"/><circle class="a" cx="743.7" cy="2025.4" r="8.2"/><circle class="c" cx="743.7" cy="1917.6" r="8.2"/><circle class="a" cx="749.5" cy="1888.7" r="8.2"/><circle class="b" cx="749.5" cy="1882.9" r="8.2"/><circle class="b" cx="749.5" cy="1890.6" r="8.2"/><circle class="c" cx="749.5" cy="1925.3" r="8.2"/><circle class="b" cx="755.2" cy="1752.9" r="8.2"/><circle class="b" cx="755.2" cy="1779.9" r="8.2"/><circle class="c" cx="755.2" cy="1981.1" r="8.2"/><circle class="b" cx="761" cy="1674.4" r="8.2"/><circle class="b" cx="761" cy="1688.8" r="8.2"/><circle class="c" cx="762.9" cy="1981.1" r="8.2"/><circle class="b" cx="766.8" cy="1819.4" r="8.2"/><circle class="b" cx="766.8" cy="1872.3" r="8.2"/><circle class="c" cx="766.8" cy="1975.3" r="8.2"/><circle class="a" cx="772.6" cy="2008" r="8.2"/><circle class="a" cx="772.6" cy="2021.5" r="8.2"/><circle class="c" cx="774.5" cy="1983" r="8.2"/><circle class="b" cx="783.1" cy="1921.4" r="8.2"/><circle class="c" cx="783.1" cy="2002.3" r="8.2"/><circle class="a" cx="788.9" cy="1836.7" r="8.2"/><circle class="c" cx="788.9" cy="1990.7" r="8.2"/><circle class="a" cx="794.7" cy="1756.8" r="8.2"/><circle class="c" cx="794.7" cy="1932" r="8.2"/><circle class="a" cx="799.5" cy="1792.4" r="8.2"/><circle class="c" cx="799.5" cy="1887.7" r="8.2"/><circle class="a" cx="806.3" cy="1722.1" r="8.2"/><circle class="c" cx="806.3" cy="1885.8" r="8.2"/><circle class="b" cx="812" cy="1788.6" r="8.2"/><circle class="c" cx="812" cy="1911.8" r="8.2"/><circle class="a" cx="817.8" cy="1981.1" r="8.2"/><circle class="c" cx="816.8" cy="1892.5" r="8.2"/><circle class="a" cx="822.6" cy="1969.5" r="8.2"/><circle class="c" cx="823.6" cy="1900.2" r="8.2"/><circle class="a" cx="828.4" cy="1990.7" r="8.2"/><circle class="c" cx="829.4" cy="1913.7" r="8.2"/><circle class="a" cx="835.1" cy="1996.5" r="8.2"/><circle class="c" cx="835.1" cy="1934.9" r="8.2"/><circle class="c" cx="839.9" cy="1971.5" r="8.2"/><circle class="a" cx="843.8" cy="1983" r="8.2"/><circle class="a" cx="845.7" cy="1906" r="8.2"/><circle class="c" cx="843.8" cy="1979.2" r="8.2"/><circle class="a" cx="849.6" cy="1986.9" r="8.2"/><circle class="c" cx="855.3" cy="1950.3" r="8.2"/><circle class="a" cx="862.1" cy="1988.8" r="8.2"/><circle class="c" cx="861.1" cy="1948.4" r="8.2"/><circle class="a" cx="868.8" cy="1965.7" r="8.2"/><circle class="b" cx="868.8" cy="1946.4" r="8.2"/><circle class="b" cx="868.8" cy="1990.7" r="8.2"/><circle class="c" cx="868.8" cy="1932" r="8.2"/><circle class="a" cx="874.6" cy="1872.3" r="8.2"/><circle class="a" cx="874.6" cy="1891.6" r="8.2"/><circle class="c" cx="875.6" cy="1915.6" r="8.2"/><circle class="a" cx="880.4" cy="1857.9" r="8.2"/><circle class="b" cx="880.4" cy="1852.1" r="8.2"/><circle class="c" cx="882.3" cy="1917.6" r="8.2"/><circle class="a" cx="886.2" cy="1762.6" r="8.2"/><circle class="a" cx="891.9" cy="1716.4" r="8.2"/><circle class="c" cx="891.9" cy="1897.3" r="8.2"/><circle class="a" cx="899.6" cy="1915.6" r="8.2"/><circle class="c" cx="899.6" cy="1973.4" r="8.2"/><circle class="a" cx="903.5" cy="1965.7" r="8.2"/><circle class="b" cx="901.6" cy="1929.1" r="8.2"/><circle class="b" cx="903.5" cy="1950.3" r="8.2"/><circle class="b" cx="904.8" cy="1927.6" r="8.2"/><circle class="c" cx="903.5" cy="1988.8" r="8.2"/><circle class="a" cx="906.7" cy="1962.3" r="8.2"/><circle class="a" cx="911.6" cy="1952.6" r="8.2"/><circle class="b" cx="908.7" cy="1938.2" r="8.2"/><circle class="c" cx="907.7" cy="1989.2" r="8.2"/><circle class="c" cx="914.4" cy="1968" r="8.2"/><circle class="a" cx="919.3" cy="1944.9" r="8.2"/><circle class="c" cx="919.3" cy="1993.1" r="8.2"/><circle class="a" cx="925" cy="1921.8" r="8.2"/><circle class="b" cx="926" cy="1903.6" r="8.2"/><circle class="c" cx="926" cy="2000.8" r="8.2"/><circle class="c" cx="927" cy="1975.7" r="8.2"/><circle class="a" cx="930.8" cy="1953.6" r="8.2"/><circle class="b" cx="937.5" cy="1968" r="8.2"/><circle class="c" cx="935.6" cy="1924.7" r="8.2"/><circle class="b" cx="943.3" cy="1987.3" r="8.2"/><circle class="c" cx="942.4" cy="1920.9" r="8.2"/><circle class="c" cx="948.1" cy="1943" r="8.2"/><circle class="a" cx="953.9" cy="1987.3" r="8.2"/><circle class="c" cx="953.9" cy="1968" r="8.2"/><circle class="c" cx="955.8" cy="1950.7" r="8.2"/><circle class="a" cx="959.7" cy="1999.8" r="8.2"/><circle class="a" cx="965.5" cy="1948.8" r="8.2"/><circle class="a" cx="965.5" cy="1991.2" r="8.2"/><circle class="c" cx="965.5" cy="1960.3" r="8.2"/><circle class="a" cx="971.2" cy="1888.1" r="8.2"/><circle class="a" cx="971.2" cy="1923.8" r="8.2"/><circle class="c" cx="971.5" cy="2011.9" r="8.2"/><circle class="a" cx="977" cy="1865" r="8.2"/><circle class="a" cx="982.8" cy="1955.5" r="8.2"/><circle class="c" cx="980.9" cy="1993.1" r="8.2"/><circle class="c" cx="982.5" cy="2004.2" r="8.2"/><circle class="a" cx="988.6" cy="1822.7" r="8.2"/><circle class="b" cx="988.6" cy="1810.2" r="8.2"/><circle class="c" cx="988.6" cy="1991.2" r="8.2"/><circle class="a" cx="994.3" cy="1777.4" r="8.2"/><circle class="c" cx="994.3" cy="1968" r="8.2"/><circle class="a" cx="998.2" cy="1918" r="8.2"/><circle class="a" cx="1000.1" cy="1878.5" r="8.2"/><circle class="c" cx="1000.1" cy="1975.7" r="8.2"/><circle class="a" cx="1004.9" cy="1787.1" r="8.2"/><circle class="a" cx="1004.9" cy="1821.7" r="8.2"/><circle class="c" cx="1004.9" cy="1962.3" r="8.2"/><circle class="a" cx="1010.7" cy="1809.2" r="8.2"/><circle class="a" cx="1010.7" cy="1863.1" r="8.2"/><circle class="c" cx="1010.7" cy="1919.9" r="8.2"/><circle class="a" cx="1016.5" cy="1777.4" r="8.2"/><circle class="c" cx="1015.5" cy="1964.2" r="8.2"/><circle class="a" cx="1022.3" cy="1815.9" r="8.2"/><circle class="a" cx="1023.2" cy="1706.2" r="8.2"/><circle class="c" cx="1022.3" cy="1944.9" r="8.2"/><circle class="c" cx="1023.2" cy="1966.1" r="8.2"/><circle class="a" cx="1028" cy="1870.8" r="8.2"/><circle class="a" cx="1033.8" cy="1831.4" r="8.2"/><circle class="a" cx="1033.8" cy="1890.1" r="8.2"/><circle class="c" cx="1034.8" cy="1964.2" r="8.2"/><circle class="a" cx="1039.6" cy="1845.8" r="8.2"/><circle class="c" cx="1038.6" cy="1939.2" r="8.2"/><circle class="a" cx="1045.4" cy="1902.6" r="8.2"/><circle class="c" cx="1046.3" cy="1943" r="8.2"/><circle class="a" cx="1054" cy="1944.9" r="8.2"/><circle class="c" cx="1056.9" cy="1910.3" r="8.2"/><circle class="a" cx="1061.7" cy="1946.9" r="8.2"/><circle class="b" cx="1064.6" cy="1952.6" r="8.2"/><circle class="c" cx="1062.7" cy="1926.7" r="8.2"/><circle class="c" cx="1067.5" cy="1868.9" r="8.2"/><circle class="a" cx="1071.4" cy="1971.9" r="8.2"/><circle class="c" cx="1073.3" cy="1835.2" r="8.2"/><circle class="a" cx="1079.1" cy="1979.6" r="8.2"/><circle class="b" cx="1079.1" cy="1956.5" r="8.2"/><circle class="c" cx="1079.1" cy="1849.6" r="8.2"/><circle class="a" cx="1084.8" cy="1968" r="8.2"/><circle class="b" cx="1084.8" cy="1973.8" r="8.2"/><circle class="c" cx="1084.8" cy="1847.7" r="8.2"/><circle class="c" cx="1090.6" cy="1833.3" r="8.2"/><circle class="b" cx="1096.4" cy="1981.5" r="8.2"/><circle class="c" cx="1093.5" cy="1813.1" r="8.2"/><circle class="b" cx="1101.2" cy="1847.7" r="8.2"/><circle class="b" cx="1102.2" cy="1806.3" r="8.2"/><circle class="c" cx="1102.2" cy="1782.3" r="8.2"/><circle class="a" cx="1107.9" cy="1758.2" r="8.2"/><circle class="a" cx="1107.9" cy="1790.9" r="8.2"/><circle class="c" cx="1107.9" cy="1821.7" r="8.2"/><circle class="b" cx="1112.7" cy="1680.2" r="8.2"/><circle class="b" cx="1113.7" cy="1689.8" r="8.2"/><circle class="c" cx="1113.7" cy="1849.6" r="8.2"/><circle class="a" cx="1119.5" cy="1719.7" r="8.2"/><circle class="c" cx="1118.5" cy="1829.4" r="8.2"/><circle class="b" cx="1125.3" cy="1698.5" r="8.2"/><circle class="b" cx="1125.3" cy="1705.2" r="8.2"/><circle class="c" cx="1124.3" cy="1838.1" r="8.2"/><circle class="a" cx="1130.1" cy="1752.4" r="8.2"/><circle class="a" cx="1131" cy="1732.2" r="8.2"/><circle class="c" cx="1131" cy="1848.7" r="8.2"/><circle class="c" cx="1136.8" cy="1856.4" r="8.2"/><circle class="a" cx="1142.6" cy="1723.5" r="8.2"/><circle class="a" cx="1142.6" cy="1741.8" r="8.2"/><circle class="c" cx="1141.6" cy="1860.2" r="8.2"/><circle class="a" cx="1148.4" cy="1758.2" r="8.2"/><circle class="c" cx="1148.4" cy="1871.8" r="8.2"/><circle class="a" cx="1152.2" cy="1762" r="8.2"/><circle class="c" cx="1154.1" cy="1901.6" r="8.2"/><circle class="a" cx="1159" cy="1788" r="8.2"/><circle class="c" cx="1159" cy="1919.9" r="8.2"/><circle class="a" cx="1164.7" cy="1766.9" r="8.2"/><circle class="c" cx="1165.7" cy="1951.7" r="8.2"/><circle class="c" cx="1169.5" cy="1920.9" r="8.2"/><circle class="a" cx="1176.3" cy="1790.9" r="8.2"/><circle class="c" cx="1176.3" cy="1903.6" r="8.2"/><circle class="c" cx="1182.1" cy="1922.8" r="8.2"/><circle class="a" cx="1186.9" cy="1756.3" r="8.2"/><circle class="c" cx="1187.8" cy="1892" r="8.2"/><circle class="a" cx="1194.6" cy="1760.1" r="8.2"/><circle class="b" cx="1193.6" cy="1750.5" r="8.2"/><circle class="c" cx="1194.6" cy="1860.2" r="8.2"/><circle class="a" cx="1200.3" cy="1765.9" r="8.2"/><circle class="c" cx="1199.4" cy="1861.2" r="8.2"/><circle class="c" cx="1205.2" cy="1794.8" r="8.2"/><circle class="a" cx="1208" cy="1771.7" r="8.2"/><circle class="a" cx="1210.9" cy="1780.3" r="8.2"/><circle class="a" cx="1215.7" cy="1754.3" r="8.2"/><circle class="c" cx="1212.9" cy="1814" r="8.2"/><circle class="c" cx="1215.7" cy="1808.2" r="8.2"/><circle class="c" cx="1221.5" cy="1764" r="8.2"/><circle class="b" cx="1227.3" cy="1754.3" r="8.2"/><circle class="c" cx="1227.3" cy="1746.6" r="8.2"/><circle class="a" cx="1233.1" cy="1775.5" r="8.2"/><circle class="a" cx="1233.1" cy="1825.6" r="8.2"/><circle class="c" cx="1233.1" cy="1738.9" r="8.2"/><circle class="b" cx="1238.9" cy="1851.6" r="8.2"/><circle class="c" cx="1238.9" cy="1717.8" r="8.2"/>
</g>
<path d="M249.3,1539.6 L254.1,1519.4 L259.9,1604.1 L271.4,1679.2 L277.2,1614.7 L288.8,1549.2 L291.6,1587.7 M310.9,1798 L310.9,1810.5 L317.6,1819.2 L322.4,1768.1 M370.6,1958.7 L374.4,1964.5 L376.4,1947.2 L380.2,1960.7 L386,1941.4 L397.5,1937.6 L397.5,1949.1 L401.4,1896.2 L402.3,1906.8 M459.1,1737.3 L464.9,1775.8 M515.9,1748.9 L515.9,1788.3 M544.8,1807.6 L552.5,1831.7 L556.9,1829 M678.2,1940.7 L680.1,1923.3 L685.9,1950.3 L697.5,1929.1 L703.2,1956.1 L703.2,1997.5 M726.4,1848.2 L737.9,1981.1 L749.5,1882.9 L749.5,1890.6 L755.2,1752.9 L755.2,1779.9 L761,1674.4 L761,1688.8 L766.8,1819.4 L766.8,1872.3 M868.8,1946.4 L868.8,1990.7 L880.4,1852.1 M901.6,1929.1 L903.5,1950.3 L904.8,1927.6 L908.7,1938.2 M926,1903.6 L937.5,1968 L943.3,1987.3 M1079.1,1956.5 L1084.8,1973.8 L1096.4,1981.5 L1101.2,1847.7 L1102.2,1806.3 L1112.7,1680.2 L1113.7,1689.8 L1125.3,1698.5 L1125.3,1705.2 M1227.3,1754.3 L1238.9,1851.6" fill="none" stroke="#7d5aa0" stroke-width="1.1"/>
<path d="M299.3,1660.9 L299.3,1681.1 L305.1,1692.7 L306.1,1752.7 L316.7,1812.4 L322.4,1737.3 L322.4,1782.6 L324.4,1719.6 L328.2,1690.7 L334,1868.2 L334,2004.9 L339.8,1987.6 L345.5,1950.1 L351.3,1932.7 L353.2,1978 L357.1,1972.2 L362.9,1985.7 L364.8,1964.5 L374.4,1970.3 M408.1,1892.3 L412.9,1788.3 L418.7,1791.2 L424.5,1803.8 L431.2,1787.4 L436,1809.5 L442.8,1814.3 L447.6,1856.7 L453.4,1881.7 M470.7,1763.3 L476.5,1727.7 L487.1,1775.8 L498.6,1747 L501.5,1729.6 L509.2,1733.5 L521.7,1799.9 L526.5,1816.3 L532.3,1820.1 L537.1,1837.4 L544.8,1822 L549.6,1849 L551.6,1866.3 L560.8,1865.6 L561.7,1838.6 L567.5,1854 L573.3,1830 L579.1,1842.5 L579.1,1869.4 L583.9,1936.8 L589.7,1961.8 M639.7,1929.1 L653.2,1935.8 L657,1958 L662.8,1971.5 L670.5,1954.1 L674.4,1923.3 M709,2031.2 L714.8,1855.9 L720.6,1876.2 L720.6,1929.1 L732.1,1969.5 L737.9,1988.8 L743.7,2011.9 L743.7,2025.4 L749.5,1888.7 M772.6,2008 L772.6,2021.5 M788.9,1836.7 L794.7,1756.8 L799.5,1792.4 L806.3,1722.1 L817.8,1981.1 L822.6,1969.5 L828.4,1990.7 L835.1,1996.5 L843.8,1983 L845.7,1906 L849.6,1986.9 L862.1,1988.8 L868.8,1965.7 L874.6,1872.3 L874.6,1891.6 L880.4,1857.9 L886.2,1762.6 L891.9,1716.4 L899.6,1915.6 L903.5,1965.7 L906.7,1962.3 L911.6,1952.6 L919.3,1944.9 L925,1921.8 L930.8,1953.6 M953.9,1987.3 L959.7,1999.8 L965.5,1948.8 L965.5,1991.2 L971.2,1888.1 L971.2,1923.8 L977,1865 L982.8,1955.5 L988.6,1822.7 L994.3,1777.4 L998.2,1918 L1000.1,1878.5 L1004.9,1787.1 L1004.9,1821.7 L1010.7,1809.2 L1010.7,1863.1 L1016.5,1777.4 L1022.3,1815.9 L1023.2,1706.2 L1028,1870.8 L1033.8,1831.4 L1033.8,1890.1 L1039.6,1845.8 L1045.4,1902.6 L1054,1944.9 L1061.7,1946.9 L1071.4,1971.9 L1079.1,1979.6 L1084.8,1968 M1107.9,1758.2 L1107.9,1790.9 L1119.5,1719.7 L1130.1,1752.4 L1131,1732.2 L1142.6,1723.5 L1142.6,1741.8 L1148.4,1758.2 L1152.2,1762 L1159,1788 L1164.7,1766.9 L1176.3,1790.9 L1186.9,1756.3 L1194.6,1760.1 L1200.3,1765.9 L1208,1771.7 L1210.9,1780.3 L1215.7,1754.3 M1233.1,1775.5 L1233.1,1825.6" fill="none" stroke="#ffcc22" stroke-width="1.1"/>
<path d="M220.4,1388.5 L226.2,1444.3 L232,1547.3 L237.7,1569.5 L243.5,1557.9 L246.4,1513.6 L254.1,1502.1 L259.9,1550.2 L265.6,1513.6 L270.5,1499.2 L277.2,1490.5 L283,1531.9 L288.8,1622.4 L294.5,1599.3 L299.3,1586.8 L305.1,1627.2 L309.9,1613.7 L316.7,1610.8 L322.4,1598.3 L328.2,1617.6 L332.5,1719 L339.8,1727.7 L345.5,1767.2 L349.4,1803.8 L357.1,1800.9 L362.9,1824 L368.7,1853.8 L374.4,1786.4 L380.2,1800.9 L384.1,1773.9 L390.8,1783.5 L396.6,1767.2 L402.3,1749.8 L407.2,1700.4 L413.9,1709 L419.7,1691.7 L429.3,1713.9 L436,1715.8 L442.8,1707.1 L447.6,1677.3 L453.4,1670.5 L459.1,1661.9 L464.9,1644.5 L470.7,1711.9 L476.5,1733.5 L481.3,1755.6 L489,1759.5 L492.8,1757.5 L498.6,1770.1 L504.4,1782.6 L511.1,1727.7 L515.9,1711 L521.7,1771 L527.5,1858.6 L532.3,1891.4 L537.1,1875.9 L544.8,1894.2 L549.6,1881.7 L553.5,1874 L560.8,1873.3 L573.3,1898.3 L579.1,1904.1 L584.8,1927.2 L590.6,1944.5 L596.4,1960.9 L602.2,1979.2 L607,1997.5 L612.8,2000.3 L618.5,2033.1 L625.3,2027.3 L630.1,2023.5 L634.3,2059.9 L641.6,2044.6 L647.2,2062 L651.3,2011.9 L659,2014.8 L664.7,1988.8 L674.4,1981.1 L680.1,1965.7 L685.9,1921.4 L689.8,1952.2 L698.4,1983 L707.1,2015.7 L709,2017.7 L719.6,1994.6 L726.4,2004.2 L730.2,1992.6 L737.9,1946.4 L743.7,1917.6 L749.5,1925.3 L755.2,1981.1 L762.9,1981.1 L766.8,1975.3 L774.5,1983 L783.1,2002.3 L788.9,1990.7 L794.7,1932 L799.5,1887.7 L806.3,1885.8 L812,1911.8 L816.8,1892.5 L823.6,1900.2 L829.4,1913.7 L835.1,1934.9 L839.9,1971.5 L843.8,1979.2 L855.3,1950.3 L861.1,1948.4 L868.8,1932 L875.6,1915.6 L882.3,1917.6 L891.9,1897.3 L899.6,1973.4 L903.5,1988.8 L907.7,1989.2 L914.4,1968 L919.3,1993.1 L926,2000.8 L927,1975.7 L935.6,1924.7 L942.4,1920.9 L948.1,1943 L953.9,1968 L955.8,1950.7 L965.5,1960.3 L971.5,2011.9 L980.9,1993.1 L982.5,2004.2 L988.6,1991.2 L994.3,1968 L1000.1,1975.7 L1004.9,1962.3 L1010.7,1919.9 L1015.5,1964.2 L1022.3,1944.9 L1023.2,1966.1 L1034.8,1964.2 L1038.6,1939.2 L1046.3,1943 L1056.9,1910.3 L1062.7,1926.7 L1067.5,1868.9 L1073.3,1835.2 L1079.1,1849.6 L1084.8,1847.7 L1090.6,1833.3 L1093.5,1813.1 L1102.2,1782.3 L1107.9,1821.7 L1113.7,1849.6 L1118.5,1829.4 L1124.3,1838.1 L1131,1848.7 L1136.8,1856.4 L1141.6,1860.2 L1148.4,1871.8 L1154.1,1901.6 L1159,1919.9 L1165.7,1951.7 L1169.5,1920.9 L1176.3,1903.6 L1182.1,1922.8 L1187.8,1892 L1194.6,1860.2 L1199.4,1861.2 L1205.2,1794.8 L1212.9,1814 L1215.7,1808.2 L1221.5,1764 L1227.3,1746.6 L1233.1,1738.9 L1238.9,1717.8" fill="none" stroke="#ff8466" stroke-width="1.1"/>
<g stroke="#2b1a12" stroke-width="1.05">
<circle class="b" cx="1455.6" cy="1444.5" r="8.2"/><circle class="b" cx="1455.6" cy="1457" r="8.2"/><circle class="c" cx="1458.5" cy="1389.6" r="8.2"/><circle class="a" cx="1464.3" cy="1433.9" r="8.2"/><circle class="a" cx="1464.3" cy="1457" r="8.2"/><circle class="b" cx="1466.2" cy="1445.5" r="8.2"/><circle class="c" cx="1464.3" cy="1389.6" r="8.2"/><circle class="c" cx="1469.1" cy="1420.4" r="8.2"/><circle class="c" cx="1473.9" cy="1428.1" r="8.2"/><circle class="a" cx="1474.8" cy="1443.5" r="8.2"/><circle class="a" cx="1478.7" cy="1455.1" r="8.2"/><circle class="b" cx="1483.5" cy="1458.9" r="8.2"/><circle class="c" cx="1480.6" cy="1412.7" r="8.2"/><circle class="c" cx="1480.6" cy="1422.4" r="8.2"/><circle class="a" cx="1489.3" cy="1460.9" r="8.2"/><circle class="c" cx="1487.4" cy="1476.3" r="8.2"/><circle class="b" cx="1495.1" cy="1455.1" r="8.2"/><circle class="c" cx="1493.1" cy="1507.1" r="8.2"/><circle class="c" cx="1493.1" cy="1522.5" r="8.2"/><circle class="c" cx="1497.9" cy="1572.5" r="8.2"/><circle class="c" cx="1497.9" cy="1601.4" r="8.2"/><circle class="b" cx="1502.8" cy="1455.1" r="8.2"/><circle class="c" cx="1504.7" cy="1577.3" r="8.2"/><circle class="c" cx="1504.7" cy="1603.3" r="8.2"/><circle class="a" cx="1509.5" cy="1461.8" r="8.2"/><circle class="a" cx="1509.5" cy="1476.3" r="8.2"/><circle class="c" cx="1509.5" cy="1597.6" r="8.2"/><circle class="c" cx="1509.5" cy="1634.1" r="8.2"/><circle class="a" cx="1515.3" cy="1510.9" r="8.2"/><circle class="c" cx="1515.3" cy="1687.1" r="8.2"/><circle class="b" cx="1521" cy="1509" r="8.2"/><circle class="b" cx="1522" cy="1499.4" r="8.2"/><circle class="b" cx="1523.9" cy="1468.6" r="8.2"/><circle class="c" cx="1521" cy="1707.3" r="8.2"/><circle class="c" cx="1526.8" cy="1653.4" r="8.2"/><circle class="a" cx="1532.6" cy="1487.8" r="8.2"/><circle class="a" cx="1533.6" cy="1472.4" r="8.2"/><circle class="c" cx="1532.6" cy="1584.1" r="8.2"/><circle class="b" cx="1539.3" cy="1467.6" r="8.2"/><circle class="c" cx="1538.4" cy="1565.8" r="8.2"/><circle class="b" cx="1545.1" cy="1460.9" r="8.2"/><circle class="c" cx="1544.2" cy="1592.7" r="8.2"/><circle class="b" cx="1549" cy="1454.1" r="8.2"/><circle class="c" cx="1549.9" cy="1610.1" r="8.2"/><circle class="a" cx="1555.7" cy="1461.8" r="8.2"/><circle class="c" cx="1555.7" cy="1550.4" r="8.2"/><circle class="a" cx="1560.5" cy="1493.6" r="8.2"/><circle class="a" cx="1561.5" cy="1482" r="8.2"/><circle class="c" cx="1560.5" cy="1569.6" r="8.2"/><circle class="a" cx="1567.3" cy="1501.3" r="8.2"/><circle class="c" cx="1566.3" cy="1564.8" r="8.2"/><circle class="a" cx="1573" cy="1501.3" r="8.2"/><circle class="c" cx="1572.1" cy="1668.8" r="8.2"/><circle class="a" cx="1577.8" cy="1514.8" r="8.2"/><circle class="a" cx="1577.8" cy="1529.2" r="8.2"/><circle class="c" cx="1577.8" cy="1684.2" r="8.2"/><circle class="a" cx="1583.6" cy="1584.1" r="8.2"/><circle class="c" cx="1583.6" cy="1672.6" r="8.2"/><circle class="a" cx="1589.4" cy="1628.4" r="8.2"/><circle class="c" cx="1589.4" cy="1641.8" r="8.2"/><circle class="a" cx="1595.2" cy="1599.5" r="8.2"/><circle class="c" cx="1595.2" cy="1613" r="8.2"/><circle class="a" cx="1599" cy="1578.3" r="8.2"/><circle class="b" cx="1609.6" cy="1590.8" r="8.2"/><circle class="c" cx="1606.7" cy="1620.7" r="8.2"/><circle class="c" cx="1612.5" cy="1558.1" r="8.2"/><circle class="a" cx="1618.3" cy="1640.9" r="8.2"/><circle class="c" cx="1618.3" cy="1525.4" r="8.2"/><circle class="a" cx="1622.1" cy="1586" r="8.2"/><circle class="c" cx="1626" cy="1572.5" r="8.2"/><circle class="a" cx="1628.9" cy="1550.4" r="8.2"/><circle class="a" cx="1629.8" cy="1593.7" r="8.2"/><circle class="c" cx="1629.8" cy="1582.2" r="8.2"/><circle class="c" cx="1635.6" cy="1620.7" r="8.2"/><circle class="a" cx="1640.4" cy="1584.1" r="8.2"/><circle class="c" cx="1640.4" cy="1649.5" r="8.2"/><circle class="a" cx="1646.2" cy="1597.6" r="8.2"/><circle class="a" cx="1647.2" cy="1626.4" r="8.2"/><circle class="c" cx="1645.2" cy="1666.9" r="8.2"/><circle class="a" cx="1652" cy="1705.4" r="8.2"/><circle class="c" cx="1651" cy="1668.8" r="8.2"/><circle class="a" cx="1656.8" cy="1626.4" r="8.2"/><circle class="a" cx="1657.7" cy="1638" r="8.2"/><circle class="b" cx="1660.6" cy="1613" r="8.2"/><circle class="c" cx="1657.7" cy="1688" r="8.2"/><circle class="c" cx="1662.6" cy="1649.5" r="8.2"/><circle class="b" cx="1668.3" cy="1593.7" r="8.2"/><circle class="c" cx="1668.3" cy="1624.5" r="8.2"/><circle class="c" cx="1668.3" cy="1655.3" r="8.2"/><circle class="a" cx="1675.1" cy="1620.7" r="8.2"/><circle class="b" cx="1675.1" cy="1611" r="8.2"/><circle class="b" cx="1678" cy="1584.1" r="8.2"/><circle class="c" cx="1675.1" cy="1653.4" r="8.2"/><circle class="a" cx="1682.8" cy="1587.9" r="8.2"/><circle class="c" cx="1683.7" cy="1580.2" r="8.2"/><circle class="a" cx="1691.4" cy="1568.7" r="8.2"/><circle class="c" cx="1690.5" cy="1630.3" r="8.2"/><circle class="a" cx="1697.2" cy="1595.6" r="8.2"/><circle class="a" cx="1697.2" cy="1609.1" r="8.2"/><circle class="c" cx="1697.2" cy="1655.3" r="8.2"/><circle class="c" cx="1697.2" cy="1676.5" r="8.2"/><circle class="c" cx="1701.1" cy="1730.6" r="8.2"/><circle class="a" cx="1703" cy="1622.6" r="8.2"/><circle class="c" cx="1702" cy="1709.2" r="8.2"/><circle class="b" cx="1706.8" cy="1651.5" r="8.2"/><circle class="c" cx="1708.8" cy="1707.3" r="8.2"/><circle class="a" cx="1714.5" cy="1636.1" r="8.2"/><circle class="a" cx="1714.5" cy="1645.7" r="8.2"/><circle class="c" cx="1714.5" cy="1738.3" r="8.2"/><circle class="b" cx="1720.3" cy="1661.1" r="8.2"/><circle class="b" cx="1720.3" cy="1684.2" r="8.2"/><circle class="b" cx="1722.2" cy="1707.3" r="8.2"/><circle class="c" cx="1720.3" cy="1748.9" r="8.2"/><circle class="c" cx="1720.3" cy="1769.1" r="8.2"/><circle class="a" cx="1726.1" cy="1720.8" r="8.2"/><circle class="a" cx="1726.1" cy="1727.7" r="8.2"/><circle class="c" cx="1724.2" cy="1800.9" r="8.2"/><circle class="a" cx="1731.9" cy="1695.7" r="8.2"/><circle class="c" cx="1731.9" cy="1799.9" r="8.2"/><circle class="c" cx="1731.9" cy="1822" r="8.2"/><circle class="a" cx="1737.6" cy="1695.7" r="8.2"/><circle class="c" cx="1737.6" cy="1786.4" r="8.2"/><circle class="c" cx="1737.6" cy="1812.4" r="8.2"/><circle class="a" cx="1741.5" cy="1707.3" r="8.2"/><circle class="c" cx="1741.5" cy="1734.4" r="8.2"/><circle class="a" cx="1749.2" cy="1748.9" r="8.2"/><circle class="c" cx="1749.2" cy="1743.1" r="8.2"/><circle class="a" cx="1754" cy="1764.3" r="8.2"/><circle class="c" cx="1753" cy="1699.6" r="8.2"/><circle class="a" cx="1758.8" cy="1800.9" r="8.2"/><circle class="a" cx="1759.8" cy="1786.4" r="8.2"/><circle class="b" cx="1763.6" cy="1810.5" r="8.2"/><circle class="c" cx="1758.8" cy="1731.6" r="8.2"/><circle class="c" cx="1762.7" cy="1703.5" r="8.2"/><circle class="c" cx="1765.6" cy="1727.7" r="8.2"/><circle class="a" cx="1769.4" cy="1816.3" r="8.2"/><circle class="c" cx="1772.3" cy="1695.7" r="8.2"/><circle class="a" cx="1777.1" cy="1805.7" r="8.2"/><circle class="c" cx="1777.1" cy="1707.3" r="8.2"/><circle class="a" cx="1781.9" cy="1822" r="8.2"/><circle class="c" cx="1782.9" cy="1737.3" r="8.2"/><circle class="a" cx="1787.7" cy="1818.2" r="8.2"/><circle class="a" cx="1791.6" cy="1829.7" r="8.2"/><circle class="c" cx="1787.7" cy="1760.4" r="8.2"/><circle class="c" cx="1789.6" cy="1777.8" r="8.2"/><circle class="a" cx="1795" cy="1818" r="8.2"/><circle class="c" cx="1795" cy="1760.2" r="8.2"/><circle class="c" cx="1798.9" cy="1779.5" r="8.2"/><circle class="c" cx="1802.7" cy="1769.9" r="8.2"/><circle class="b" cx="1804.6" cy="1831.5" r="8.2"/><circle class="b" cx="1806.6" cy="1837.2" r="8.2"/><circle class="a" cx="1809.4" cy="1796.8" r="8.2"/><circle class="a" cx="1810.4" cy="1820.9" r="8.2"/><circle class="c" cx="1811.4" cy="1767.9" r="8.2"/><circle class="a" cx="1818.1" cy="1816.1" r="8.2"/><circle class="c" cx="1816.2" cy="1781.4" r="8.2"/><circle class="c" cx="1820" cy="1837.2" r="8.2"/><circle class="a" cx="1822" cy="1796.8" r="8.2"/><circle class="b" cx="1825.8" cy="1848.8" r="8.2"/><circle class="c" cx="1823.9" cy="1806.4" r="8.2"/><circle class="c" cx="1828.7" cy="1843" r="8.2"/><circle class="a" cx="1837.4" cy="1868" r="8.2"/><circle class="b" cx="1833.5" cy="1825.7" r="8.2"/><circle class="c" cx="1833.5" cy="1812.2" r="8.2"/><circle class="c" cx="1836.4" cy="1879.6" r="8.2"/><circle class="a" cx="1839.3" cy="1856.5" r="8.2"/><circle class="c" cx="1839.3" cy="1841.1" r="8.2"/><circle class="a" cx="1846" cy="1864.2" r="8.2"/><circle class="c" cx="1844.1" cy="1883.5" r="8.2"/><circle class="c" cx="1845.2" cy="1913.7" r="8.2"/><circle class="b" cx="1849.9" cy="1844.9" r="8.2"/><circle class="b" cx="1850.8" cy="1835.3" r="8.2"/><circle class="c" cx="1850.8" cy="1900.8" r="8.2"/><circle class="c" cx="1852.8" cy="1877.7" r="8.2"/><circle class="c" cx="1857.1" cy="1922.2" r="8.2"/><circle class="a" cx="1860.5" cy="1843" r="8.2"/><circle class="a" cx="1862.4" cy="1848.8" r="8.2"/><circle class="c" cx="1861.4" cy="1877.7" r="8.2"/><circle class="b" cx="1869.1" cy="1858.4" r="8.2"/><circle class="c" cx="1868.2" cy="1844.9" r="8.2"/><circle class="c" cx="1872" cy="1868" r="8.2"/><circle class="c" cx="1875.9" cy="1846.9" r="8.2"/><circle class="c" cx="1879.7" cy="1848.8" r="8.2"/><circle class="c" cx="1882.6" cy="1854.6" r="8.2"/><circle class="a" cx="1888.4" cy="1862.3" r="8.2"/><circle class="b" cx="1885.5" cy="1871.9" r="8.2"/><circle class="c" cx="1889.3" cy="1868" r="8.2"/><circle class="a" cx="1897" cy="1840.1" r="8.2"/><circle class="a" cx="1897" cy="1854.6" r="8.2"/><circle class="c" cx="1895.1" cy="1887.3" r="8.2"/><circle class="c" cx="1899" cy="1891.2" r="8.2"/><circle class="b" cx="1902.8" cy="1860.3" r="8.2"/><circle class="b" cx="1902.8" cy="1871.9" r="8.2"/><circle class="c" cx="1905.6" cy="1918" r="8.2"/><circle class="a" cx="1908.6" cy="1883.5" r="8.2"/><circle class="b" cx="1905.7" cy="1883.5" r="8.2"/><circle class="a" cx="1916.3" cy="1871.9" r="8.2"/><circle class="a" cx="1916.3" cy="1883.5" r="8.2"/><circle class="b" cx="1914.4" cy="1898.9" r="8.2"/><circle class="c" cx="1914.1" cy="1920.5" r="8.2"/><circle class="c" cx="1914.1" cy="1927.3" r="8.2"/><circle class="a" cx="1922.1" cy="1868" r="8.2"/><circle class="c" cx="1919.2" cy="1940.9" r="8.2"/><circle class="c" cx="1925.2" cy="1925.6" r="8.2"/><circle class="c" cx="1925.2" cy="1934.1" r="8.2"/><circle class="a" cx="1929.8" cy="1860.3" r="8.2"/><circle class="b" cx="1933.6" cy="1860.3" r="8.2"/><circle class="c" cx="1931.1" cy="1952.9" r="8.2"/><circle class="c" cx="1931.1" cy="1961.4" r="8.2"/><circle class="a" cx="1939.4" cy="1850.7" r="8.2"/><circle class="c" cx="1936.2" cy="2012.4" r="8.2"/><circle class="c" cx="1936.2" cy="2020.1" r="8.2"/><circle class="c" cx="1941.3" cy="1971.6" r="8.2"/><circle class="c" cx="1941.3" cy="1976.7" r="8.2"/><circle class="a" cx="1947.1" cy="1844.9" r="8.2"/><circle class="a" cx="1949" cy="1866.1" r="8.2"/><circle class="c" cx="1948.1" cy="1988.6" r="8.2"/><circle class="c" cx="1948.1" cy="1995.4" r="8.2"/><circle class="a" cx="1952.9" cy="1818" r="8.2"/><circle class="a" cx="1954.8" cy="1812.2" r="8.2"/><circle class="c" cx="1953.2" cy="1970.7" r="8.2"/><circle class="a" cx="1959.6" cy="1808.4" r="8.2"/><circle class="c" cx="1958.3" cy="1958" r="8.2"/><circle class="b" cx="1964.4" cy="1819.9" r="8.2"/><circle class="c" cx="1965.2" cy="1952.9" r="8.2"/><circle class="a" cx="1968.3" cy="1848.8" r="8.2"/><circle class="a" cx="1972.1" cy="1841.1" r="8.2"/><circle class="c" cx="1970.2" cy="1900.8" r="8.2"/><circle class="a" cx="1978.9" cy="1841.1" r="8.2"/><circle class="c" cx="1976" cy="1860.3" r="8.2"/><circle class="a" cx="1984.6" cy="1846.9" r="8.2"/><circle class="c" cx="1981.8" cy="1900.8" r="8.2"/><circle class="a" cx="1989.5" cy="1846.9" r="8.2"/><circle class="c" cx="1985.6" cy="1877.7" r="8.2"/><circle class="a" cx="1995.2" cy="1852.6" r="8.2"/><circle class="c" cx="1993.3" cy="1883.5" r="8.2"/><circle class="a" cx="2002" cy="1846.9" r="8.2"/><circle class="c" cx="1997.2" cy="1868" r="8.2"/><circle class="a" cx="2003.9" cy="1831.5" r="8.2"/><circle class="c" cx="2004.9" cy="1864.2" r="8.2"/><circle class="c" cx="2004.9" cy="1875.7" r="8.2"/><circle class="a" cx="2010.6" cy="1821.8" r="8.2"/><circle class="c" cx="2010.6" cy="1895" r="8.2"/><circle class="a" cx="2016.4" cy="1788.1" r="8.2"/><circle class="b" cx="2016.4" cy="1804.5" r="8.2"/><circle class="c" cx="2015.4" cy="1848.8" r="8.2"/><circle class="b" cx="2022.2" cy="1770.8" r="8.2"/><circle class="c" cx="2022.2" cy="1843" r="8.2"/><circle class="c" cx="2024.1" cy="1866.1" r="8.2"/><circle class="a" cx="2028" cy="1793" r="8.2"/><circle class="b" cx="2027" cy="1752.5" r="8.2"/><circle class="a" cx="2035.7" cy="1791" r="8.2"/><circle class="b" cx="2031.8" cy="1810.3" r="8.2"/><circle class="c" cx="2031.8" cy="1862.3" r="8.2"/><circle class="c" cx="2038.6" cy="1875.7" r="8.2"/><circle class="a" cx="2043.4" cy="1814.1" r="8.2"/><circle class="c" cx="2043.4" cy="1856.5" r="8.2"/><circle class="b" cx="2050.1" cy="1796.8" r="8.2"/><circle class="b" cx="2051.1" cy="1793" r="8.2"/><circle class="c" cx="2051.1" cy="1846.9" r="8.2"/><circle class="c" cx="2051.1" cy="1856.5" r="8.2"/><circle class="a" cx="2054.9" cy="1810.3" r="8.2"/><circle class="c" cx="2055.9" cy="1870" r="8.2"/><circle class="a" cx="2060.7" cy="1818" r="8.2"/><circle class="c" cx="2061.7" cy="1833.4" r="8.2"/><circle class="a" cx="2067.4" cy="1789.1" r="8.2"/><circle class="c" cx="2067.4" cy="1852.6" r="8.2"/><circle class="a" cx="2074.2" cy="1785.3" r="8.2"/><circle class="b" cx="2072.2" cy="1775.6" r="8.2"/><circle class="c" cx="2072.2" cy="1808.4" r="8.2"/><circle class="b" cx="2079" cy="1754.5" r="8.2"/><circle class="c" cx="2076.1" cy="1818" r="8.2"/><circle class="b" cx="2083.8" cy="1789.1" r="8.2"/><circle class="c" cx="2081.9" cy="1810.3" r="8.2"/><circle class="c" cx="2083.8" cy="1821.8" r="8.2"/><circle class="a" cx="2090.5" cy="1800.7" r="8.2"/><circle class="a" cx="2091.5" cy="1810.3" r="8.2"/><circle class="c" cx="2089.6" cy="1833.4" r="8.2"/><circle class="b" cx="2095.3" cy="1823.8" r="8.2"/><circle class="c" cx="2095.3" cy="1848.8" r="8.2"/><circle class="c" cx="2095.3" cy="1868" r="8.2"/><circle class="a" cx="2099.2" cy="1854.6" r="8.2"/><circle class="c" cx="2103" cy="1887.3" r="8.2"/><circle class="a" cx="2108.8" cy="1887.3" r="8.2"/><circle class="c" cx="2106.9" cy="1860.3" r="8.2"/><circle class="a" cx="2112.7" cy="1871.9" r="8.2"/><circle class="c" cx="2112.3" cy="1956.3" r="8.2"/><circle class="c" cx="2112.3" cy="1981.8" r="8.2"/><circle class="c" cx="2112.7" cy="1875.7" r="8.2"/><circle class="a" cx="2118.5" cy="1854.6" r="8.2"/><circle class="c" cx="2116.6" cy="1973.3" r="8.2"/><circle class="c" cx="2118.3" cy="1997.9" r="8.2"/><circle class="b" cx="2122.3" cy="1835.3" r="8.2"/><circle class="c" cx="2124.2" cy="1949.4" r="8.2"/><circle class="c" cx="2124.2" cy="1970.7" r="8.2"/><circle class="a" cx="2130" cy="1835.3" r="8.2"/><circle class="c" cx="2129.4" cy="1958" r="8.2"/><circle class="c" cx="2129.4" cy="1983.5" r="8.2"/><circle class="a" cx="2135.8" cy="1844.9" r="8.2"/><circle class="a" cx="2135.8" cy="1852.6" r="8.2"/><circle class="c" cx="2135.3" cy="1934.1" r="8.2"/><circle class="a" cx="2139.6" cy="1885.4" r="8.2"/><circle class="c" cx="2138.7" cy="1918.8" r="8.2"/><circle class="c" cx="2141.6" cy="1891.2" r="8.2"/><circle class="c" cx="2143.5" cy="1875.7" r="8.2"/><circle class="c" cx="2143.8" cy="1918.8" r="8.2"/><circle class="a" cx="2152.8" cy="1895.8" r="8.2"/><circle class="a" cx="2152.8" cy="1906.1" r="8.2"/><circle class="c" cx="2151.6" cy="1791.2" r="8.2"/><circle class="c" cx="2152.8" cy="1763.1" r="8.2"/><circle class="a" cx="2158.6" cy="1836.7" r="8.2"/><circle class="a" cx="2158.6" cy="1855.4" r="8.2"/><circle class="c" cx="2156.7" cy="1774.6" r="8.2"/><circle class="c" cx="2158" cy="1807.2" r="8.2"/><circle class="a" cx="2161.8" cy="1805.9" r="8.2"/><circle class="a" cx="2165.7" cy="1761.8" r="8.2"/><circle class="a" cx="2167.6" cy="1779.8" r="8.2"/><circle class="a" cx="2174.7" cy="1755.4" r="8.2"/><circle class="c" cx="2175.3" cy="1806.6" r="8.2"/><circle class="a" cx="2181.1" cy="1769.5" r="8.2"/><circle class="c" cx="2179.8" cy="1789.3" r="8.2"/><circle class="a" cx="2186.8" cy="1735.5" r="8.2"/><circle class="c" cx="2186.2" cy="1784.1" r="8.2"/><circle class="a" cx="2192.6" cy="1695" r="8.2"/><circle class="a" cx="2192.6" cy="1705.3" r="8.2"/><circle class="c" cx="2192.6" cy="1804.7" r="8.2"/><circle class="c" cx="2192.6" cy="1820.1" r="8.2"/><circle class="a" cx="2200.3" cy="1715.6" r="8.2"/><circle class="b" cx="2197.8" cy="1722" r="8.2"/><circle class="c" cx="2196.5" cy="1775.9" r="8.2"/><circle class="a" cx="2202.9" cy="1736.1" r="8.2"/><circle class="c" cx="2204.2" cy="1791.2" r="8.2"/><circle class="c" cx="2209.3" cy="1757.9" r="8.2"/><circle class="c" cx="2209.3" cy="1773.3" r="8.2"/><circle class="c" cx="2211.9" cy="1750.2" r="8.2"/><circle class="a" cx="2214.4" cy="1716.9" r="8.2"/><circle class="c" cx="2217" cy="1734.8" r="8.2"/><circle class="a" cx="2219.6" cy="1711.7" r="8.2"/><circle class="c" cx="2220.9" cy="1750.2" r="8.2"/><circle class="b" cx="2226" cy="1693.8" r="8.2"/><circle class="c" cx="2226" cy="1733.5" r="8.2"/><circle class="b" cx="2229.8" cy="1706.6" r="8.2"/><circle class="c" cx="2232.4" cy="1716.9" r="8.2"/><circle class="c" cx="2235" cy="1693.8" r="8.2"/><circle class="c" cx="2240.1" cy="1650.1" r="8.2"/><circle class="a" cx="2244" cy="1710.4" r="8.2"/><circle class="c" cx="2244" cy="1663" r="8.2"/><circle class="b" cx="2249.1" cy="1691.2" r="8.2"/><circle class="a" cx="2253" cy="1678.4" r="8.2"/><circle class="a" cx="2255.5" cy="1669.4" r="8.2"/><circle class="c" cx="2255.5" cy="1645" r="8.2"/><circle class="c" cx="2255.5" cy="1655.2" r="8.2"/><circle class="c" cx="2259.4" cy="1677.1" r="8.2"/><circle class="a" cx="2267.1" cy="1662.3" r="8.2"/><circle class="c" cx="2267.1" cy="1677.1" r="8.2"/><circle class="b" cx="2272.2" cy="1629.6" r="8.2"/><circle class="b" cx="2274.8" cy="1647.5" r="8.2"/><circle class="c" cx="2270.9" cy="1688.6" r="8.2"/><circle class="c" cx="2273.5" cy="1697.6" r="8.2"/><circle class="b" cx="2279.9" cy="1636" r="8.2"/><circle class="c" cx="2276.1" cy="1711.7" r="8.2"/><circle class="a" cx="2283.8" cy="1651.4" r="8.2"/><circle class="a" cx="2283.8" cy="1677.7" r="8.2"/><circle class="c" cx="2283.8" cy="1728.4" r="8.2"/><circle class="b" cx="2288.9" cy="1689.9" r="8.2"/><circle class="b" cx="2288.9" cy="1711.7" r="8.2"/><circle class="c" cx="2288.9" cy="1716.9" r="8.2"/><circle class="a" cx="2294" cy="1757.9" r="8.2"/><circle class="a" cx="2295.3" cy="1661.7" r="8.2"/><circle class="c" cx="2294" cy="1769.5" r="8.2"/><circle class="c" cx="2295.3" cy="1785.4" r="8.2"/><circle class="a" cx="2300.4" cy="1816.2" r="8.2"/><circle class="b" cx="2299.2" cy="1805.9" r="8.2"/><circle class="c" cx="2300.4" cy="1760.5" r="8.2"/><circle class="a" cx="2306.2" cy="1842.5" r="8.2"/><circle class="a" cx="2306.9" cy="1808.5" r="8.2"/><circle class="c" cx="2305.6" cy="1747.7" r="8.2"/><circle class="a" cx="2310.7" cy="1723.3" r="8.2"/><circle class="a" cx="2312" cy="1743.8" r="8.2"/><circle class="c" cx="2312" cy="1755.4" r="8.2"/><circle class="c" cx="2312" cy="1770.8" r="8.2"/><circle class="c" cx="2314.6" cy="1716.9" r="8.2"/><circle class="a" cx="2315.8" cy="1696.3" r="8.2"/><circle class="a" cx="2317.8" cy="1639.8" r="8.2"/><circle class="c" cx="2319.7" cy="1710.4" r="8.2"/><circle class="a" cx="2322.3" cy="1651.4" r="8.2"/><circle class="a" cx="2328.7" cy="1696.3" r="8.2"/><circle class="c" cx="2330" cy="1711.7" r="8.2"/><circle class="a" cx="2335.1" cy="1648.8" r="8.2"/><circle class="a" cx="2335.1" cy="1668.1" r="8.2"/><circle class="c" cx="2335.1" cy="1683.5" r="8.2"/><circle class="a" cx="2340.2" cy="1634.1" r="8.2"/><circle class="c" cx="2340.2" cy="1763.1" r="8.2"/><circle class="b" cx="2346" cy="1638.6" r="8.2"/><circle class="c" cx="2345.4" cy="1742.5" r="8.2"/><circle class="a" cx="2351.8" cy="1564.1" r="8.2"/><circle class="a" cx="2351.8" cy="1575.7" r="8.2"/><circle class="c" cx="2351.8" cy="1733.5" r="8.2"/><circle class="a" cx="2358.2" cy="1785.4" r="8.2"/><circle class="c" cx="2355.6" cy="1765.6" r="8.2"/><circle class="a" cx="2363.3" cy="1772.1" r="8.2"/><circle class="c" cx="2363.3" cy="1759.2" r="8.2"/><circle class="a" cx="2368.5" cy="1695" r="8.2"/><circle class="c" cx="2368.5" cy="1748.9" r="8.2"/><circle class="b" cx="2374.9" cy="1654" r="8.2"/><circle class="c" cx="2374.9" cy="1741.2" r="8.2"/><circle class="a" cx="2380" cy="1671.9" r="8.2"/><circle class="c" cx="2380" cy="1641.1" r="8.2"/>
</g>
<path d="M1455.6,1444.5 L1455.6,1457 L1466.2,1445.5 M1483.5,1458.9 L1495.1,1455.1 L1502.8,1455.1 M1521,1509 L1522,1499.4 L1523.9,1468.6 M1539.3,1467.6 L1545.1,1460.9 L1549,1454.1 M1660.6,1613 L1668.3,1593.7 L1675.1,1611 L1678,1584.1 M1706.8,1651.5 L1720.3,1661.1 L1720.3,1684.2 L1722.2,1707.3 M1804.6,1831.5 L1806.6,1837.2 M1825.8,1848.8 L1833.5,1825.7 M1849.9,1844.9 L1850.8,1835.3 M1902.8,1860.3 L1902.8,1871.9 L1905.7,1883.5 L1914.4,1898.9 M2016.4,1804.5 L2022.2,1770.8 L2027,1752.5 L2031.8,1810.3 M2050.1,1796.8 L2051.1,1793 M2072.2,1775.6 L2079,1754.5 L2083.8,1789.1 L2095.3,1823.8 M2226,1693.8 L2229.8,1706.6 M2272.2,1629.6 L2274.8,1647.5 L2279.9,1636 L2288.9,1689.9 L2288.9,1711.7 L2299.2,1805.9" fill="none" stroke="#7d5aa0" stroke-width="1.1"/>
<path d="M1464.3,1433.9 L1464.3,1457 L1474.8,1443.5 L1478.7,1455.1 L1489.3,1460.9 M1509.5,1461.8 L1509.5,1476.3 L1515.3,1510.9 M1532.6,1487.8 L1533.6,1472.4 M1555.7,1461.8 L1560.5,1493.6 L1561.5,1482 L1567.3,1501.3 L1573,1501.3 L1577.8,1514.8 L1577.8,1529.2 L1583.6,1584.1 L1589.4,1628.4 L1595.2,1599.5 L1599,1578.3 M1618.3,1640.9 L1622.1,1586 L1628.9,1550.4 L1629.8,1593.7 L1640.4,1584.1 L1646.2,1597.6 L1647.2,1626.4 L1652,1705.4 L1656.8,1626.4 L1657.7,1638 M1675.1,1620.7 L1682.8,1587.9 L1691.4,1568.7 L1697.2,1595.6 L1697.2,1609.1 L1703,1622.6 L1714.5,1636.1 L1714.5,1645.7 L1726.1,1720.8 L1726.1,1727.7 L1731.9,1695.7 L1737.6,1695.7 L1741.5,1707.3 L1749.2,1748.9 L1754,1764.3 L1758.8,1800.9 L1759.8,1786.4 L1769.4,1816.3 L1777.1,1805.7 L1781.9,1822 L1787.7,1818.2 L1791.6,1829.7 L1795,1818 M1809.4,1796.8 L1810.4,1820.9 L1818.1,1816.1 L1822,1796.8 M1837.4,1868 L1839.3,1856.5 L1846,1864.2 M1860.5,1843 L1862.4,1848.8 M1888.4,1862.3 L1897,1840.1 L1897,1854.6 L1908.6,1883.5 L1916.3,1871.9 L1916.3,1883.5 L1922.1,1868 L1929.8,1860.3 L1939.4,1850.7 L1947.1,1844.9 L1949,1866.1 L1952.9,1818 L1954.8,1812.2 L1959.6,1808.4 L1968.3,1848.8 L1972.1,1841.1 L1978.9,1841.1 L1984.6,1846.9 L1989.5,1846.9 L1995.2,1852.6 L2002,1846.9 L2003.9,1831.5 L2010.6,1821.8 L2016.4,1788.1 L2028,1793 L2035.7,1791 L2043.4,1814.1 L2054.9,1810.3 L2060.7,1818 L2067.4,1789.1 L2074.2,1785.3 M2090.5,1800.7 L2091.5,1810.3 L2099.2,1854.6 L2108.8,1887.3 L2112.7,1871.9 L2118.5,1854.6 L2130,1835.3 L2135.8,1844.9 L2135.8,1852.6 L2139.6,1885.4 L2152.8,1895.8 L2152.8,1906.1 L2158.6,1836.7 L2158.6,1855.4 L2161.8,1805.9 L2165.7,1761.8 L2167.6,1779.8 L2174.7,1755.4 L2181.1,1769.5 L2186.8,1735.5 L2192.6,1695 L2192.6,1705.3 L2200.3,1715.6 L2202.9,1736.1 L2214.4,1716.9 L2219.6,1711.7 M2244,1710.4 L2253,1678.4 L2255.5,1669.4 L2267.1,1662.3 M2283.8,1651.4 L2283.8,1677.7 L2294,1757.9 L2295.3,1661.7 L2300.4,1816.2 L2306.2,1842.5 L2306.9,1808.5 L2310.7,1723.3 L2312,1743.8 L2315.8,1696.3 L2317.8,1639.8 L2322.3,1651.4 L2328.7,1696.3 L2335.1,1648.8 L2335.1,1668.1 L2340.2,1634.1 L2351.8,1564.1 L2351.8,1575.7 L2358.2,1785.4 L2363.3,1772.1 L2368.5,1695 L2380,1671.9" fill="none" stroke="#ffcc22" stroke-width="1.1"/>
<path d="M1458.5,1389.6 L1464.3,1389.6 L1469.1,1420.4 L1473.9,1428.1 L1480.6,1412.7 L1480.6,1422.4 L1487.4,1476.3 L1493.1,1507.1 L1493.1,1522.5 L1497.9,1572.5 L1497.9,1601.4 L1504.7,1577.3 L1504.7,1603.3 L1509.5,1597.6 L1509.5,1634.1 L1515.3,1687.1 L1521,1707.3 L1526.8,1653.4 L1532.6,1584.1 L1538.4,1565.8 L1544.2,1592.7 L1549.9,1610.1 L1555.7,1550.4 L1560.5,1569.6 L1566.3,1564.8 L1572.1,1668.8 L1577.8,1684.2 L1583.6,1672.6 L1589.4,1641.8 L1595.2,1613 L1606.7,1620.7 L1612.5,1558.1 L1618.3,1525.4 L1626,1572.5 L1629.8,1582.2 L1635.6,1620.7 L1640.4,1649.5 L1645.2,1666.9 L1651,1668.8 L1657.7,1688 L1662.6,1649.5 L1668.3,1624.5 L1668.3,1655.3 L1675.1,1653.4 L1683.7,1580.2 L1690.5,1630.3 L1697.2,1655.3 L1697.2,1676.5 L1701.1,1730.6 L1702,1709.2 L1708.8,1707.3 L1714.5,1738.3 L1720.3,1748.9 L1720.3,1769.1 L1724.2,1800.9 L1731.9,1799.9 L1731.9,1822 L1737.6,1786.4 L1737.6,1812.4 L1741.5,1734.4 L1749.2,1743.1 L1753,1699.6 L1758.8,1731.6 L1762.7,1703.5 L1765.6,1727.7 L1772.3,1695.7 L1777.1,1707.3 L1782.9,1737.3 L1787.7,1760.4 L1789.6,1777.8 L1795,1760.2 L1798.9,1779.5 L1802.7,1769.9 L1811.4,1767.9 L1816.2,1781.4 L1820,1837.2 L1823.9,1806.4 L1828.7,1843 L1833.5,1812.2 L1836.4,1879.6 L1839.3,1841.1 L1844.1,1883.5 L1845.2,1913.7 L1850.8,1900.8 L1852.8,1877.7 L1857.1,1922.2 L1861.4,1877.7 L1868.2,1844.9 L1872,1868 L1875.9,1846.9 L1879.7,1848.8 L1882.6,1854.6 L1889.3,1868 L1895.1,1887.3 L1899,1891.2 L1905.6,1918 L1914.1,1920.5 L1914.1,1927.3 L1919.2,1940.9 L1925.2,1925.6 L1925.2,1934.1 L1931.1,1952.9 L1931.1,1961.4 L1936.2,2012.4 L1936.2,2020.1 L1941.3,1971.6 L1941.3,1976.7 L1948.1,1988.6 L1948.1,1995.4 L1953.2,1970.7 L1958.3,1958 L1965.2,1952.9 L1970.2,1900.8 L1976,1860.3 L1981.8,1900.8 L1985.6,1877.7 L1993.3,1883.5 L1997.2,1868 L2004.9,1864.2 L2004.9,1875.7 L2010.6,1895 L2015.4,1848.8 L2022.2,1843 L2024.1,1866.1 L2031.8,1862.3 L2038.6,1875.7 L2043.4,1856.5 L2051.1,1846.9 L2051.1,1856.5 L2055.9,1870 L2061.7,1833.4 L2067.4,1852.6 L2072.2,1808.4 L2076.1,1818 L2081.9,1810.3 L2083.8,1821.8 L2089.6,1833.4 L2095.3,1848.8 L2095.3,1868 L2103,1887.3 L2106.9,1860.3 L2112.3,1956.3 L2112.3,1981.8 L2112.7,1875.7 L2116.6,1973.3 L2118.3,1997.9 L2124.2,1949.4 L2124.2,1970.7 L2129.4,1958 L2129.4,1983.5 L2135.3,1934.1 L2138.7,1918.8 L2141.6,1891.2 L2143.5,1875.7 L2143.8,1918.8 L2151.6,1791.2 L2152.8,1763.1 L2156.7,1774.6 L2158,1807.2 M2175.3,1806.6 L2179.8,1789.3 L2186.2,1784.1 L2192.6,1804.7 L2192.6,1820.1 L2196.5,1775.9 L2204.2,1791.2 L2209.3,1757.9 L2209.3,1773.3 L2211.9,1750.2 L2217,1734.8 L2220.9,1750.2 L2226,1733.5 L2232.4,1716.9 L2235,1693.8 L2240.1,1650.1 L2244,1663 L2255.5,1645 L2255.5,1655.2 L2259.4,1677.1 L2267.1,1677.1 L2270.9,1688.6 L2273.5,1697.6 L2276.1,1711.7 L2283.8,1728.4 L2288.9,1716.9 L2294,1769.5 L2295.3,1785.4 L2300.4,1760.5 L2305.6,1747.7 L2312,1755.4 L2312,1770.8 L2314.6,1716.9 L2319.7,1710.4 L2330,1711.7 L2335.1,1683.5 L2340.2,1763.1 L2345.4,1742.5 L2351.8,1733.5 L2355.6,1765.6 L2363.3,1759.2 L2368.5,1748.9 L2374.9,1741.2 L2380,1641.1" fill="none" stroke="#ff8466" stroke-width="1.1"/>
<path d="M1298.4,1012.4 C1301.8,889.1 1336.5,798.8 1219.3,718.5" fill="none" stroke="#0b2738" stroke-width="2.3"/>
<path d="M1199.3,704.3 L1225.6,708.3 L1211.6,727.7 Z" fill="#0b2738"/>
<path d="M1379.7,1023.6 C1496.8,1027.2 1601.4,1049.7 1665,929.4" fill="none" stroke="#0b2738" stroke-width="2.3"/>
<path d="M1678,908.3 L1655.4,922.3 L1675.9,934.2 Z" fill="#0b2738"/>
<path d="M1254.6,1035.7 C1143.5,1032.4 1036,1023 983.5,1142.2" fill="none" stroke="#0b2738" stroke-width="2.3"/>
<path d="M971.9,1163.1 L972.4,1136.8 L993.5,1148.1 Z" fill="#0b2738"/>
<path d="M1326.8,1088.9 C1326.4,1195.4 1311.6,1320.4 1432,1369.3" fill="none" stroke="#0b2738" stroke-width="2.3"/>
<path d="M1450,1380 L1424.1,1378.2 L1436.6,1357.7 Z" fill="#0b2738"/>
<circle cx="1298.4" cy="1012.4" r="6.6" fill="#000"/>
<circle cx="1255.1" cy="1035.8" r="6.6" fill="#000"/>
<circle cx="1379.7" cy="1023.6" r="6.6" fill="#000"/>
<circle cx="1327.2" cy="1089.6" r="6.6" fill="#000"/>
</svg>
</body></html>
